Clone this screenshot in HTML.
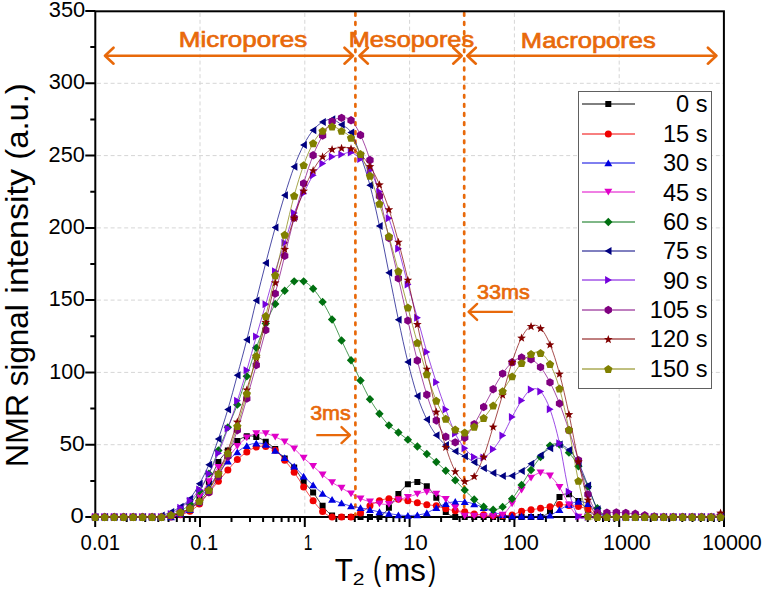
<!DOCTYPE html>
<html><head><meta charset="utf-8"><title>NMR T2</title>
<style>
html,body{margin:0;padding:0;background:#fff;}
body{width:763px;height:590px;overflow:hidden;}
svg{display:block;}
text{font-family:"Liberation Sans",sans-serif;}
</style></head><body>
<svg width="763" height="590" viewBox="0 0 763 590">
<rect x="0" y="0" width="763" height="590" fill="#fff"/>

<path d="M200.0,13 V516 M304.8,13 V516 M409.6,13 V516 M514.4,13 V516 M619.2,13 V516 M97,444.7 H723 M97,372.4 H723 M97,300.1 H723 M97,227.9 H723 M97,155.6 H723 M97,83.3 H723" stroke="#d6d6d6" stroke-width="1" stroke-dasharray="4,2.8" fill="none"/>
<path d="M355.4,13.1 V517" stroke="#E8690A" stroke-width="2.7" stroke-linecap="round" stroke-dasharray="2.6,6.5" fill="none"/>
<path d="M464.2,13.1 V517" stroke="#E8690A" stroke-width="2.7" stroke-linecap="round" stroke-dasharray="2.6,6.5" fill="none"/>
<rect x="95.3" y="11.3" width="628.6" height="505.7" fill="none" stroke="#000" stroke-width="2"/>
<path d="M85.3,517.0 H95.3 M90.3,480.9 H95.3 M85.3,444.7 H95.3 M90.3,408.6 H95.3 M85.3,372.4 H95.3 M90.3,336.3 H95.3 M85.3,300.1 H95.3 M90.3,264.0 H95.3 M85.3,227.9 H95.3 M90.3,191.7 H95.3 M85.3,155.6 H95.3 M90.3,119.4 H95.3 M85.3,83.3 H95.3 M90.3,47.1 H95.3 M85.3,11.0 H95.3 M95.2,517 V527.0 M126.7,517 V522.0 M145.2,517 V522.0 M158.3,517 V522.0 M168.5,517 V522.0 M176.8,517 V522.0 M183.8,517 V522.0 M189.8,517 V522.0 M195.2,517 V522.0 M200.0,517 V527.0 M231.5,517 V522.0 M250.0,517 V522.0 M263.1,517 V522.0 M273.3,517 V522.0 M281.6,517 V522.0 M288.6,517 V522.0 M294.6,517 V522.0 M300.0,517 V522.0 M304.8,517 V527.0 M336.3,517 V522.0 M354.8,517 V522.0 M367.9,517 V522.0 M378.1,517 V522.0 M386.4,517 V522.0 M393.4,517 V522.0 M399.4,517 V522.0 M404.8,517 V522.0 M409.6,517 V527.0 M441.1,517 V522.0 M459.6,517 V522.0 M472.7,517 V522.0 M482.9,517 V522.0 M491.2,517 V522.0 M498.2,517 V522.0 M504.2,517 V522.0 M509.6,517 V522.0 M514.4,517 V527.0 M545.9,517 V522.0 M564.4,517 V522.0 M577.5,517 V522.0 M587.7,517 V522.0 M596.0,517 V522.0 M603.0,517 V522.0 M609.0,517 V522.0 M614.4,517 V522.0 M619.2,517 V527.0 M650.7,517 V522.0 M669.2,517 V522.0 M682.3,517 V522.0 M692.5,517 V522.0 M700.8,517 V522.0 M707.8,517 V522.0 M713.8,517 V522.0 M719.2,517 V522.0 M724.0,517 V527" stroke="#000" stroke-width="2" fill="none"/>
<path d="M95.20,517.00 C96.78,517.00 101.52,517.00 104.67,517.00 C107.83,517.00 110.99,517.00 114.15,517.00 C117.31,517.00 120.47,517.00 123.62,517.00 C126.78,517.00 129.94,517.00 133.10,517.00 C136.26,517.00 139.42,517.00 142.57,517.00 C145.73,517.00 148.89,517.00 152.05,517.00 C155.21,517.00 158.37,517.24 161.53,517.00 C164.68,516.76 167.84,516.16 171.00,515.55 C174.16,514.95 177.32,514.59 180.47,513.39 C183.63,512.18 186.79,510.86 189.95,508.33 C193.11,505.80 196.27,502.54 199.43,498.21 C202.58,493.87 205.74,488.33 208.90,482.30 C212.06,476.28 215.22,467.36 218.38,462.06 C221.53,456.76 224.69,454.02 227.85,450.50 C231.01,446.98 234.17,443.32 237.32,440.96 C240.48,438.59 243.64,437.00 246.80,436.33 C249.96,435.65 253.12,436.02 256.27,436.91 C259.43,437.80 262.59,439.65 265.75,441.68 C268.91,443.70 272.07,446.26 275.23,449.05 C278.38,451.85 281.54,455.39 284.70,458.45 C287.86,461.51 291.02,463.58 294.18,467.41 C297.33,471.24 300.49,477.24 303.65,481.44 C306.81,485.63 309.97,488.50 313.12,492.57 C316.28,496.64 319.44,502.04 322.60,505.87 C325.76,509.70 328.92,513.70 332.07,515.55 C335.23,517.41 338.39,516.76 341.55,517.00 C344.71,517.24 347.87,517.00 351.02,517.00 C354.18,517.00 357.34,517.00 360.50,517.00 C363.66,517.00 366.82,517.00 369.97,517.00 C373.13,517.00 376.29,518.54 379.45,517.00 C382.61,515.46 385.77,511.58 388.92,507.75 C392.08,503.92 395.24,497.92 398.40,494.01 C401.56,490.11 404.72,486.33 407.88,484.33 C411.03,482.33 414.19,481.68 417.35,482.01 C420.51,482.35 423.67,483.75 426.82,486.35 C429.98,488.95 433.14,493.36 436.30,497.63 C439.46,501.89 442.62,508.71 445.77,511.94 C448.93,515.17 452.09,516.16 455.25,517.00 C458.41,517.84 461.57,517.00 464.72,517.00 C467.88,517.00 471.04,517.00 474.20,517.00 C477.36,517.00 480.52,517.00 483.67,517.00 C486.83,517.00 489.99,517.00 493.15,517.00 C496.31,517.00 499.47,517.00 502.62,517.00 C505.78,517.00 508.94,517.00 512.10,517.00 C515.26,517.00 518.42,517.00 521.58,517.00 C524.73,517.00 527.89,517.00 531.05,517.00 C534.21,517.00 537.37,517.96 540.52,517.00 C543.68,516.04 546.84,514.57 550.00,511.22 C553.16,507.87 556.32,499.75 559.48,496.90 C562.63,494.06 565.79,493.46 568.95,494.16 C572.11,494.86 575.27,498.49 578.42,501.10 C581.58,503.70 584.74,507.12 587.90,509.77 C591.06,512.42 594.22,515.80 597.38,517.00 C600.53,518.20 603.69,517.00 606.85,517.00 C610.01,517.00 613.17,517.00 616.33,517.00 C619.48,517.00 622.64,517.00 625.80,517.00 C628.96,517.00 632.12,517.00 635.27,517.00 C638.43,517.00 641.59,517.00 644.75,517.00 C647.91,517.00 651.07,517.00 654.23,517.00 C657.38,517.00 660.54,517.00 663.70,517.00 C666.86,517.00 670.02,517.00 673.18,517.00 C676.33,517.00 679.49,517.00 682.65,517.00 C685.81,517.00 688.97,517.00 692.12,517.00 C695.28,517.00 698.44,517.00 701.60,517.00 C704.76,517.00 707.92,517.00 711.08,517.00 C714.23,517.00 718.97,517.00 720.55,517.00" stroke="#000000" stroke-width="1" stroke-opacity="0.7" fill="none"/>
<path d="M92.20,514.00L98.20,514.00L98.20,520.00L92.20,520.00Z M101.67,514.00L107.67,514.00L107.67,520.00L101.67,520.00Z M111.15,514.00L117.15,514.00L117.15,520.00L111.15,520.00Z M120.62,514.00L126.62,514.00L126.62,520.00L120.62,520.00Z M130.10,514.00L136.10,514.00L136.10,520.00L130.10,520.00Z M139.57,514.00L145.57,514.00L145.57,520.00L139.57,520.00Z M149.05,514.00L155.05,514.00L155.05,520.00L149.05,520.00Z M158.53,514.00L164.53,514.00L164.53,520.00L158.53,520.00Z M168.00,512.55L174.00,512.55L174.00,518.55L168.00,518.55Z M177.47,510.39L183.47,510.39L183.47,516.39L177.47,516.39Z M186.95,505.33L192.95,505.33L192.95,511.33L186.95,511.33Z M196.43,495.21L202.43,495.21L202.43,501.21L196.43,501.21Z M205.90,479.30L211.90,479.30L211.90,485.30L205.90,485.30Z M215.38,459.06L221.38,459.06L221.38,465.06L215.38,465.06Z M224.85,447.50L230.85,447.50L230.85,453.50L224.85,453.50Z M234.32,437.96L240.32,437.96L240.32,443.96L234.32,443.96Z M243.80,433.33L249.80,433.33L249.80,439.33L243.80,439.33Z M253.27,433.91L259.27,433.91L259.27,439.91L253.27,439.91Z M262.75,438.68L268.75,438.68L268.75,444.68L262.75,444.68Z M272.23,446.05L278.23,446.05L278.23,452.05L272.23,452.05Z M281.70,455.45L287.70,455.45L287.70,461.45L281.70,461.45Z M291.18,464.41L297.18,464.41L297.18,470.41L291.18,470.41Z M300.65,478.44L306.65,478.44L306.65,484.44L300.65,484.44Z M310.12,489.57L316.12,489.57L316.12,495.57L310.12,495.57Z M319.60,502.87L325.60,502.87L325.60,508.87L319.60,508.87Z M329.07,512.55L335.07,512.55L335.07,518.55L329.07,518.55Z M338.55,514.00L344.55,514.00L344.55,520.00L338.55,520.00Z M348.02,514.00L354.02,514.00L354.02,520.00L348.02,520.00Z M357.50,514.00L363.50,514.00L363.50,520.00L357.50,520.00Z M366.97,514.00L372.97,514.00L372.97,520.00L366.97,520.00Z M376.45,514.00L382.45,514.00L382.45,520.00L376.45,520.00Z M385.92,504.75L391.92,504.75L391.92,510.75L385.92,510.75Z M395.40,491.01L401.40,491.01L401.40,497.01L395.40,497.01Z M404.88,481.33L410.88,481.33L410.88,487.33L404.88,487.33Z M414.35,479.01L420.35,479.01L420.35,485.01L414.35,485.01Z M423.82,483.35L429.82,483.35L429.82,489.35L423.82,489.35Z M433.30,494.63L439.30,494.63L439.30,500.63L433.30,500.63Z M442.77,508.94L448.77,508.94L448.77,514.94L442.77,514.94Z M452.25,514.00L458.25,514.00L458.25,520.00L452.25,520.00Z M461.72,514.00L467.72,514.00L467.72,520.00L461.72,520.00Z M471.20,514.00L477.20,514.00L477.20,520.00L471.20,520.00Z M480.67,514.00L486.67,514.00L486.67,520.00L480.67,520.00Z M490.15,514.00L496.15,514.00L496.15,520.00L490.15,520.00Z M499.62,514.00L505.62,514.00L505.62,520.00L499.62,520.00Z M509.10,514.00L515.10,514.00L515.10,520.00L509.10,520.00Z M518.58,514.00L524.58,514.00L524.58,520.00L518.58,520.00Z M528.05,514.00L534.05,514.00L534.05,520.00L528.05,520.00Z M537.52,514.00L543.52,514.00L543.52,520.00L537.52,520.00Z M547.00,508.22L553.00,508.22L553.00,514.22L547.00,514.22Z M556.48,493.90L562.48,493.90L562.48,499.90L556.48,499.90Z M565.95,491.16L571.95,491.16L571.95,497.16L565.95,497.16Z M575.42,498.10L581.42,498.10L581.42,504.10L575.42,504.10Z M584.90,506.77L590.90,506.77L590.90,512.77L584.90,512.77Z M594.38,514.00L600.38,514.00L600.38,520.00L594.38,520.00Z M603.85,514.00L609.85,514.00L609.85,520.00L603.85,520.00Z M613.33,514.00L619.33,514.00L619.33,520.00L613.33,520.00Z M622.80,514.00L628.80,514.00L628.80,520.00L622.80,520.00Z M632.27,514.00L638.27,514.00L638.27,520.00L632.27,520.00Z M641.75,514.00L647.75,514.00L647.75,520.00L641.75,520.00Z M651.23,514.00L657.23,514.00L657.23,520.00L651.23,520.00Z M660.70,514.00L666.70,514.00L666.70,520.00L660.70,520.00Z M670.18,514.00L676.18,514.00L676.18,520.00L670.18,520.00Z M679.65,514.00L685.65,514.00L685.65,520.00L679.65,520.00Z M689.12,514.00L695.12,514.00L695.12,520.00L689.12,520.00Z M698.60,514.00L704.60,514.00L704.60,520.00L698.60,520.00Z M708.08,514.00L714.08,514.00L714.08,520.00L708.08,520.00Z M717.55,514.00L723.55,514.00L723.55,520.00L717.55,520.00Z" fill="#000000"/>
<path d="M95.20,517.00 C96.78,517.00 101.52,517.00 104.67,517.00 C107.83,517.00 110.99,517.00 114.15,517.00 C117.31,517.00 120.47,517.00 123.62,517.00 C126.78,517.00 129.94,517.00 133.10,517.00 C136.26,517.00 139.42,517.00 142.57,517.00 C145.73,517.00 148.89,517.00 152.05,517.00 C155.21,517.00 158.37,517.00 161.53,517.00 C164.68,517.00 167.84,517.36 171.00,517.00 C174.16,516.64 177.32,515.80 180.47,514.83 C183.63,513.87 186.79,513.02 189.95,511.22 C193.11,509.41 196.27,507.12 199.43,503.99 C202.58,500.86 205.74,496.21 208.90,492.42 C212.06,488.64 215.22,485.03 218.38,481.29 C221.53,477.56 224.69,473.63 227.85,470.01 C231.01,466.40 234.17,462.59 237.32,459.61 C240.48,456.62 243.64,454.18 246.80,452.09 C249.96,449.99 253.12,447.97 256.27,447.03 C259.43,446.09 262.59,445.89 265.75,446.45 C268.91,447.00 272.07,448.04 275.23,450.35 C278.38,452.67 281.54,456.69 284.70,460.33 C287.86,463.97 291.02,467.75 294.18,472.18 C297.33,476.62 300.49,482.18 303.65,486.93 C306.81,491.68 309.97,496.57 313.12,500.66 C316.28,504.76 319.44,508.78 322.60,511.51 C325.76,514.23 328.92,516.08 332.07,517.00 C335.23,517.92 338.39,517.00 341.55,517.00 C344.71,517.00 347.87,517.67 351.02,517.00 C354.18,516.33 357.34,514.81 360.50,512.95 C363.66,511.10 366.82,507.92 369.97,505.87 C373.13,503.82 376.29,501.87 379.45,500.66 C382.61,499.46 385.77,498.88 388.92,498.64 C392.08,498.40 395.24,498.88 398.40,499.22 C401.56,499.56 404.72,500.09 407.88,500.66 C411.03,501.24 414.19,502.01 417.35,502.69 C420.51,503.36 423.67,504.18 426.82,504.71 C429.98,505.24 433.14,505.19 436.30,505.87 C439.46,506.54 442.62,507.94 445.77,508.76 C448.93,509.58 452.09,510.30 455.25,510.78 C458.41,511.27 461.57,511.12 464.72,511.65 C467.88,512.18 471.04,513.43 474.20,513.96 C477.36,514.49 480.52,514.57 483.67,514.83 C486.83,515.10 489.99,515.43 493.15,515.55 C496.31,515.67 499.47,515.65 502.62,515.55 C505.78,515.46 508.94,515.70 512.10,514.98 C515.26,514.25 518.42,512.08 521.58,511.22 C524.73,510.35 527.89,510.25 531.05,509.77 C534.21,509.29 537.37,508.83 540.52,508.33 C543.68,507.82 546.84,507.36 550.00,506.74 C553.16,506.11 556.32,504.76 559.48,504.57 C562.63,504.37 565.79,505.24 568.95,505.58 C572.11,505.92 575.27,505.96 578.42,506.59 C581.58,507.22 584.74,507.84 587.90,509.34 C591.06,510.83 594.22,514.28 597.38,515.55 C600.53,516.83 603.69,516.76 606.85,517.00 C610.01,517.24 613.17,517.00 616.33,517.00 C619.48,517.00 622.64,517.00 625.80,517.00 C628.96,517.00 632.12,517.00 635.27,517.00 C638.43,517.00 641.59,517.00 644.75,517.00 C647.91,517.00 651.07,517.00 654.23,517.00 C657.38,517.00 660.54,517.00 663.70,517.00 C666.86,517.00 670.02,517.00 673.18,517.00 C676.33,517.00 679.49,517.00 682.65,517.00 C685.81,517.00 688.97,517.00 692.12,517.00 C695.28,517.00 698.44,517.00 701.60,517.00 C704.76,517.00 707.92,517.00 711.08,517.00 C714.23,517.00 718.97,517.00 720.55,517.00" stroke="#F00000" stroke-width="1" stroke-opacity="0.7" fill="none"/>
<g fill="#F00000"><circle cx="95.20" cy="517.00" r="3.5"/><circle cx="104.67" cy="517.00" r="3.5"/><circle cx="114.15" cy="517.00" r="3.5"/><circle cx="123.62" cy="517.00" r="3.5"/><circle cx="133.10" cy="517.00" r="3.5"/><circle cx="142.57" cy="517.00" r="3.5"/><circle cx="152.05" cy="517.00" r="3.5"/><circle cx="161.53" cy="517.00" r="3.5"/><circle cx="171.00" cy="517.00" r="3.5"/><circle cx="180.47" cy="514.83" r="3.5"/><circle cx="189.95" cy="511.22" r="3.5"/><circle cx="199.43" cy="503.99" r="3.5"/><circle cx="208.90" cy="492.42" r="3.5"/><circle cx="218.38" cy="481.29" r="3.5"/><circle cx="227.85" cy="470.01" r="3.5"/><circle cx="237.32" cy="459.61" r="3.5"/><circle cx="246.80" cy="452.09" r="3.5"/><circle cx="256.27" cy="447.03" r="3.5"/><circle cx="265.75" cy="446.45" r="3.5"/><circle cx="275.23" cy="450.35" r="3.5"/><circle cx="284.70" cy="460.33" r="3.5"/><circle cx="294.18" cy="472.18" r="3.5"/><circle cx="303.65" cy="486.93" r="3.5"/><circle cx="313.12" cy="500.66" r="3.5"/><circle cx="322.60" cy="511.51" r="3.5"/><circle cx="332.07" cy="517.00" r="3.5"/><circle cx="341.55" cy="517.00" r="3.5"/><circle cx="351.02" cy="517.00" r="3.5"/><circle cx="360.50" cy="512.95" r="3.5"/><circle cx="369.97" cy="505.87" r="3.5"/><circle cx="379.45" cy="500.66" r="3.5"/><circle cx="388.92" cy="498.64" r="3.5"/><circle cx="398.40" cy="499.22" r="3.5"/><circle cx="407.88" cy="500.66" r="3.5"/><circle cx="417.35" cy="502.69" r="3.5"/><circle cx="426.82" cy="504.71" r="3.5"/><circle cx="436.30" cy="505.87" r="3.5"/><circle cx="445.77" cy="508.76" r="3.5"/><circle cx="455.25" cy="510.78" r="3.5"/><circle cx="464.72" cy="511.65" r="3.5"/><circle cx="474.20" cy="513.96" r="3.5"/><circle cx="483.67" cy="514.83" r="3.5"/><circle cx="493.15" cy="515.55" r="3.5"/><circle cx="502.62" cy="515.55" r="3.5"/><circle cx="512.10" cy="514.98" r="3.5"/><circle cx="521.58" cy="511.22" r="3.5"/><circle cx="531.05" cy="509.77" r="3.5"/><circle cx="540.52" cy="508.33" r="3.5"/><circle cx="550.00" cy="506.74" r="3.5"/><circle cx="559.48" cy="504.57" r="3.5"/><circle cx="568.95" cy="505.58" r="3.5"/><circle cx="578.42" cy="506.59" r="3.5"/><circle cx="587.90" cy="509.34" r="3.5"/><circle cx="597.38" cy="515.55" r="3.5"/><circle cx="606.85" cy="517.00" r="3.5"/><circle cx="616.33" cy="517.00" r="3.5"/><circle cx="625.80" cy="517.00" r="3.5"/><circle cx="635.27" cy="517.00" r="3.5"/><circle cx="644.75" cy="517.00" r="3.5"/><circle cx="654.23" cy="517.00" r="3.5"/><circle cx="663.70" cy="517.00" r="3.5"/><circle cx="673.18" cy="517.00" r="3.5"/><circle cx="682.65" cy="517.00" r="3.5"/><circle cx="692.12" cy="517.00" r="3.5"/><circle cx="701.60" cy="517.00" r="3.5"/><circle cx="711.08" cy="517.00" r="3.5"/><circle cx="720.55" cy="517.00" r="3.5"/></g>
<path d="M95.20,517.00 C96.78,517.00 101.52,517.00 104.67,517.00 C107.83,517.00 110.99,517.00 114.15,517.00 C117.31,517.00 120.47,517.00 123.62,517.00 C126.78,517.00 129.94,517.00 133.10,517.00 C136.26,517.00 139.42,517.00 142.57,517.00 C145.73,517.00 148.89,517.00 152.05,517.00 C155.21,517.00 158.37,517.00 161.53,517.00 C164.68,517.00 167.84,517.48 171.00,517.00 C174.16,516.52 177.32,515.31 180.47,514.11 C183.63,512.90 186.79,512.18 189.95,509.77 C193.11,507.36 196.27,503.51 199.43,499.65 C202.58,495.80 205.74,490.98 208.90,486.64 C212.06,482.30 215.22,477.87 218.38,473.63 C221.53,469.39 224.69,464.79 227.85,461.20 C231.01,457.61 234.17,454.67 237.32,452.09 C240.48,449.51 243.64,447.20 246.80,445.73 C249.96,444.26 253.12,443.49 256.27,443.27 C259.43,443.05 262.59,443.22 265.75,444.43 C268.91,445.63 272.07,448.26 275.23,450.50 C278.38,452.74 281.54,455.22 284.70,457.87 C287.86,460.52 291.02,463.34 294.18,466.40 C297.33,469.46 300.49,473.12 303.65,476.23 C306.81,479.34 309.97,482.16 313.12,485.05 C316.28,487.94 319.44,491.15 322.60,493.58 C325.76,496.01 328.92,498.06 332.07,499.65 C335.23,501.24 338.39,502.04 341.55,503.12 C344.71,504.21 347.87,505.39 351.02,506.16 C354.18,506.93 357.34,507.15 360.50,507.75 C363.66,508.35 366.82,509.07 369.97,509.77 C373.13,510.47 376.29,511.31 379.45,511.94 C382.61,512.57 385.77,513.02 388.92,513.53 C392.08,514.04 395.24,514.64 398.40,514.98 C401.56,515.31 404.72,515.55 407.88,515.55 C411.03,515.55 414.19,515.41 417.35,514.98 C420.51,514.54 423.67,514.13 426.82,512.95 C429.98,511.77 433.14,509.43 436.30,507.89 C439.46,506.35 442.62,504.74 445.77,503.70 C448.93,502.66 452.09,501.99 455.25,501.68 C458.41,501.36 461.57,501.43 464.72,501.82 C467.88,502.21 471.04,503.00 474.20,503.99 C477.36,504.98 480.52,506.42 483.67,507.75 C486.83,509.07 489.99,510.76 493.15,511.94 C496.31,513.12 499.47,514.13 502.62,514.83 C505.78,515.53 508.94,515.91 512.10,516.13 C515.26,516.36 518.42,516.16 521.58,516.18 C524.73,516.20 527.89,516.21 531.05,516.23 C534.21,516.25 537.37,516.44 540.52,516.28 C543.68,516.12 546.84,516.33 550.00,515.27 C553.16,514.20 556.32,511.67 559.48,509.92 C562.63,508.16 565.79,506.11 568.95,504.71 C572.11,503.31 575.27,501.68 578.42,501.53 C581.58,501.39 584.74,502.04 587.90,503.84 C591.06,505.65 594.22,510.18 597.38,512.37 C600.53,514.57 603.69,516.23 606.85,517.00 C610.01,517.77 613.17,517.00 616.33,517.00 C619.48,517.00 622.64,517.00 625.80,517.00 C628.96,517.00 632.12,517.00 635.27,517.00 C638.43,517.00 641.59,517.00 644.75,517.00 C647.91,517.00 651.07,517.00 654.23,517.00 C657.38,517.00 660.54,517.00 663.70,517.00 C666.86,517.00 670.02,517.00 673.18,517.00 C676.33,517.00 679.49,517.00 682.65,517.00 C685.81,517.00 688.97,517.00 692.12,517.00 C695.28,517.00 698.44,517.00 701.60,517.00 C704.76,517.00 707.92,517.00 711.08,517.00 C714.23,517.00 718.97,517.00 720.55,517.00" stroke="#0000E0" stroke-width="1" stroke-opacity="0.7" fill="none"/>
<path d="M95.20,513.40L99.20,520.20L91.20,520.20Z M104.67,513.40L108.67,520.20L100.67,520.20Z M114.15,513.40L118.15,520.20L110.15,520.20Z M123.62,513.40L127.62,520.20L119.62,520.20Z M133.10,513.40L137.10,520.20L129.10,520.20Z M142.57,513.40L146.57,520.20L138.57,520.20Z M152.05,513.40L156.05,520.20L148.05,520.20Z M161.53,513.40L165.53,520.20L157.53,520.20Z M171.00,513.40L175.00,520.20L167.00,520.20Z M180.47,510.51L184.47,517.31L176.47,517.31Z M189.95,506.17L193.95,512.97L185.95,512.97Z M199.43,496.05L203.43,502.85L195.43,502.85Z M208.90,483.04L212.90,489.84L204.90,489.84Z M218.38,470.03L222.38,476.83L214.38,476.83Z M227.85,457.60L231.85,464.40L223.85,464.40Z M237.32,448.49L241.32,455.29L233.32,455.29Z M246.80,442.13L250.80,448.93L242.80,448.93Z M256.27,439.67L260.27,446.47L252.27,446.47Z M265.75,440.83L269.75,447.63L261.75,447.63Z M275.23,446.90L279.23,453.70L271.23,453.70Z M284.70,454.27L288.70,461.07L280.70,461.07Z M294.18,462.80L298.18,469.60L290.18,469.60Z M303.65,472.63L307.65,479.43L299.65,479.43Z M313.12,481.45L317.12,488.25L309.12,488.25Z M322.60,489.98L326.60,496.78L318.60,496.78Z M332.07,496.05L336.07,502.85L328.07,502.85Z M341.55,499.52L345.55,506.32L337.55,506.32Z M351.02,502.56L355.02,509.36L347.02,509.36Z M360.50,504.15L364.50,510.95L356.50,510.95Z M369.97,506.17L373.97,512.97L365.97,512.97Z M379.45,508.34L383.45,515.14L375.45,515.14Z M388.92,509.93L392.92,516.73L384.92,516.73Z M398.40,511.38L402.40,518.18L394.40,518.18Z M407.88,511.95L411.88,518.75L403.88,518.75Z M417.35,511.38L421.35,518.18L413.35,518.18Z M426.82,509.35L430.82,516.15L422.82,516.15Z M436.30,504.29L440.30,511.09L432.30,511.09Z M445.77,500.10L449.77,506.90L441.77,506.90Z M455.25,498.08L459.25,504.88L451.25,504.88Z M464.72,498.22L468.72,505.02L460.72,505.02Z M474.20,500.39L478.20,507.19L470.20,507.19Z M483.67,504.15L487.67,510.95L479.67,510.95Z M493.15,508.34L497.15,515.14L489.15,515.14Z M502.62,511.23L506.62,518.03L498.62,518.03Z M512.10,512.53L516.10,519.33L508.10,519.33Z M521.58,512.58L525.58,519.38L517.58,519.38Z M531.05,512.63L535.05,519.43L527.05,519.43Z M540.52,512.68L544.52,519.48L536.52,519.48Z M550.00,511.67L554.00,518.47L546.00,518.47Z M559.48,506.32L563.48,513.12L555.48,513.12Z M568.95,501.11L572.95,507.91L564.95,507.91Z M578.42,497.93L582.42,504.73L574.42,504.73Z M587.90,500.24L591.90,507.04L583.90,507.04Z M597.38,508.77L601.38,515.57L593.38,515.57Z M606.85,513.40L610.85,520.20L602.85,520.20Z M616.33,513.40L620.33,520.20L612.33,520.20Z M625.80,513.40L629.80,520.20L621.80,520.20Z M635.27,513.40L639.27,520.20L631.27,520.20Z M644.75,513.40L648.75,520.20L640.75,520.20Z M654.23,513.40L658.23,520.20L650.23,520.20Z M663.70,513.40L667.70,520.20L659.70,520.20Z M673.18,513.40L677.18,520.20L669.18,520.20Z M682.65,513.40L686.65,520.20L678.65,520.20Z M692.12,513.40L696.12,520.20L688.12,520.20Z M701.60,513.40L705.60,520.20L697.60,520.20Z M711.08,513.40L715.08,520.20L707.08,520.20Z M720.55,513.40L724.55,520.20L716.55,520.20Z" fill="#0000E0"/>
<path d="M95.20,517.00 C96.78,517.00 101.52,517.00 104.67,517.00 C107.83,517.00 110.99,517.00 114.15,517.00 C117.31,517.00 120.47,517.00 123.62,517.00 C126.78,517.00 129.94,517.00 133.10,517.00 C136.26,517.00 139.42,517.00 142.57,517.00 C145.73,517.00 148.89,517.00 152.05,517.00 C155.21,517.00 158.37,517.00 161.53,517.00 C164.68,517.00 167.84,517.48 171.00,517.00 C174.16,516.52 177.32,515.55 180.47,514.11 C183.63,512.66 186.79,511.22 189.95,508.33 C193.11,505.43 196.27,501.24 199.43,496.76 C202.58,492.28 205.74,486.37 208.90,481.44 C212.06,476.50 215.22,471.05 218.38,467.12 C221.53,463.20 224.69,461.36 227.85,457.87 C231.01,454.38 234.17,449.53 237.32,446.16 C240.48,442.79 243.64,439.75 246.80,437.63 C249.96,435.51 253.12,434.14 256.27,433.44 C259.43,432.74 262.59,432.86 265.75,433.44 C268.91,434.02 272.07,435.53 275.23,436.91 C278.38,438.28 281.54,439.73 284.70,441.68 C287.86,443.63 291.02,445.89 294.18,448.62 C297.33,451.34 300.49,455.10 303.65,458.01 C306.81,460.93 309.97,463.32 313.12,466.11 C316.28,468.91 319.44,472.06 322.60,474.79 C325.76,477.51 328.92,480.25 332.07,482.45 C335.23,484.64 338.39,486.09 341.55,487.94 C344.71,489.80 347.87,491.80 351.02,493.58 C354.18,495.36 357.34,497.29 360.50,498.64 C363.66,499.99 366.82,500.83 369.97,501.68 C373.13,502.52 376.29,503.29 379.45,503.70 C382.61,504.11 385.77,504.81 388.92,504.13 C392.08,503.46 395.24,500.81 398.40,499.65 C401.56,498.49 404.72,498.13 407.88,497.19 C411.03,496.25 414.19,494.90 417.35,494.01 C420.51,493.12 423.67,491.84 426.82,491.84 C429.98,491.84 433.14,492.78 436.30,494.01 C439.46,495.24 442.62,496.93 445.77,499.22 C448.93,501.51 452.09,504.98 455.25,507.75 C458.41,510.52 461.57,514.47 464.72,515.84 C467.88,517.22 471.04,515.94 474.20,515.99 C477.36,516.04 480.52,516.08 483.67,516.13 C486.83,516.18 489.99,516.49 493.15,516.28 C496.31,516.06 499.47,516.93 502.62,514.83 C505.78,512.74 508.94,507.84 512.10,503.70 C515.26,499.56 518.42,494.25 521.58,489.97 C524.73,485.68 527.89,480.83 531.05,477.97 C534.21,475.10 537.37,473.12 540.52,472.76 C543.68,472.40 546.84,473.39 550.00,475.80 C553.16,478.21 556.32,482.40 559.48,487.22 C562.63,492.04 565.79,499.75 568.95,504.71 C572.11,509.68 575.27,514.95 578.42,517.00 C581.58,519.05 584.74,517.00 587.90,517.00 C591.06,517.00 594.22,517.00 597.38,517.00 C600.53,517.00 603.69,517.00 606.85,517.00 C610.01,517.00 613.17,517.00 616.33,517.00 C619.48,517.00 622.64,517.00 625.80,517.00 C628.96,517.00 632.12,517.00 635.27,517.00 C638.43,517.00 641.59,517.00 644.75,517.00 C647.91,517.00 651.07,517.00 654.23,517.00 C657.38,517.00 660.54,517.00 663.70,517.00 C666.86,517.00 670.02,517.00 673.18,517.00 C676.33,517.00 679.49,517.00 682.65,517.00 C685.81,517.00 688.97,517.00 692.12,517.00 C695.28,517.00 698.44,517.00 701.60,517.00 C704.76,517.00 707.92,517.00 711.08,517.00 C714.23,517.00 718.97,517.00 720.55,517.00" stroke="#E000C8" stroke-width="1" stroke-opacity="0.7" fill="none"/>
<path d="M95.20,520.60L99.20,513.80L91.20,513.80Z M104.67,520.60L108.67,513.80L100.67,513.80Z M114.15,520.60L118.15,513.80L110.15,513.80Z M123.62,520.60L127.62,513.80L119.62,513.80Z M133.10,520.60L137.10,513.80L129.10,513.80Z M142.57,520.60L146.57,513.80L138.57,513.80Z M152.05,520.60L156.05,513.80L148.05,513.80Z M161.53,520.60L165.53,513.80L157.53,513.80Z M171.00,520.60L175.00,513.80L167.00,513.80Z M180.47,517.71L184.47,510.91L176.47,510.91Z M189.95,511.93L193.95,505.13L185.95,505.13Z M199.43,500.36L203.43,493.56L195.43,493.56Z M208.90,485.04L212.90,478.24L204.90,478.24Z M218.38,470.72L222.38,463.92L214.38,463.92Z M227.85,461.47L231.85,454.67L223.85,454.67Z M237.32,449.76L241.32,442.96L233.32,442.96Z M246.80,441.23L250.80,434.43L242.80,434.43Z M256.27,437.04L260.27,430.24L252.27,430.24Z M265.75,437.04L269.75,430.24L261.75,430.24Z M275.23,440.51L279.23,433.71L271.23,433.71Z M284.70,445.28L288.70,438.48L280.70,438.48Z M294.18,452.22L298.18,445.42L290.18,445.42Z M303.65,461.61L307.65,454.81L299.65,454.81Z M313.12,469.71L317.12,462.91L309.12,462.91Z M322.60,478.39L326.60,471.59L318.60,471.59Z M332.07,486.05L336.07,479.25L328.07,479.25Z M341.55,491.54L345.55,484.74L337.55,484.74Z M351.02,497.18L355.02,490.38L347.02,490.38Z M360.50,502.24L364.50,495.44L356.50,495.44Z M369.97,505.28L373.97,498.48L365.97,498.48Z M379.45,507.30L383.45,500.50L375.45,500.50Z M388.92,507.73L392.92,500.93L384.92,500.93Z M398.40,503.25L402.40,496.45L394.40,496.45Z M407.88,500.79L411.88,493.99L403.88,493.99Z M417.35,497.61L421.35,490.81L413.35,490.81Z M426.82,495.44L430.82,488.64L422.82,488.64Z M436.30,497.61L440.30,490.81L432.30,490.81Z M445.77,502.82L449.77,496.02L441.77,496.02Z M455.25,511.35L459.25,504.55L451.25,504.55Z M464.72,519.44L468.72,512.64L460.72,512.64Z M474.20,519.59L478.20,512.79L470.20,512.79Z M483.67,519.73L487.67,512.93L479.67,512.93Z M493.15,519.88L497.15,513.08L489.15,513.08Z M502.62,518.43L506.62,511.63L498.62,511.63Z M512.10,507.30L516.10,500.50L508.10,500.50Z M521.58,493.57L525.58,486.77L517.58,486.77Z M531.05,481.57L535.05,474.77L527.05,474.77Z M540.52,476.36L544.52,469.56L536.52,469.56Z M550.00,479.40L554.00,472.60L546.00,472.60Z M559.48,490.82L563.48,484.02L555.48,484.02Z M568.95,508.31L572.95,501.51L564.95,501.51Z M578.42,520.60L582.42,513.80L574.42,513.80Z M587.90,520.60L591.90,513.80L583.90,513.80Z M597.38,520.60L601.38,513.80L593.38,513.80Z M606.85,520.60L610.85,513.80L602.85,513.80Z M616.33,520.60L620.33,513.80L612.33,513.80Z M625.80,520.60L629.80,513.80L621.80,513.80Z M635.27,520.60L639.27,513.80L631.27,513.80Z M644.75,520.60L648.75,513.80L640.75,513.80Z M654.23,520.60L658.23,513.80L650.23,513.80Z M663.70,520.60L667.70,513.80L659.70,513.80Z M673.18,520.60L677.18,513.80L669.18,513.80Z M682.65,520.60L686.65,513.80L678.65,513.80Z M692.12,520.60L696.12,513.80L688.12,513.80Z M701.60,520.60L705.60,513.80L697.60,513.80Z M711.08,520.60L715.08,513.80L707.08,513.80Z M720.55,520.60L724.55,513.80L716.55,513.80Z" fill="#E000C8"/>
<path d="M95.20,517.00 C96.78,517.00 101.52,517.00 104.67,517.00 C107.83,517.00 110.99,517.00 114.15,517.00 C117.31,517.00 120.47,517.00 123.62,517.00 C126.78,517.00 129.94,517.00 133.10,517.00 C136.26,517.00 139.42,517.00 142.57,517.00 C145.73,517.00 148.89,517.00 152.05,517.00 C155.21,517.00 158.37,517.36 161.53,517.00 C164.68,516.64 167.84,515.80 171.00,514.83 C174.16,513.87 177.32,513.02 180.47,511.22 C183.63,509.41 186.79,507.36 189.95,503.99 C193.11,500.62 196.27,496.04 199.43,490.98 C202.58,485.92 205.74,480.38 208.90,473.63 C212.06,466.88 215.22,458.21 218.38,450.50 C221.53,442.79 224.69,435.00 227.85,427.37 C231.01,419.73 234.17,413.17 237.32,404.67 C240.48,396.16 243.64,385.80 246.80,376.33 C249.96,366.86 253.12,356.67 256.27,347.85 C259.43,339.03 262.59,330.72 265.75,323.42 C268.91,316.12 272.07,309.49 275.23,304.05 C278.38,298.60 281.54,294.53 284.70,290.75 C287.86,286.96 291.02,282.91 294.18,281.35 C297.33,279.78 300.49,280.12 303.65,281.35 C306.81,282.58 309.97,285.30 313.12,288.72 C316.28,292.14 319.44,296.75 322.60,301.88 C325.76,307.01 328.92,313.08 332.07,319.52 C335.23,325.95 338.39,333.68 341.55,340.48 C344.71,347.27 347.87,353.61 351.02,360.28 C354.18,366.96 357.34,374.02 360.50,380.52 C363.66,387.03 366.82,393.78 369.97,399.32 C373.13,404.86 376.29,409.44 379.45,413.78 C382.61,418.11 385.77,422.21 388.92,425.34 C392.08,428.47 395.24,430.18 398.40,432.57 C401.56,434.96 404.72,437.34 407.88,439.65 C411.03,441.97 414.19,444.06 417.35,446.45 C420.51,448.83 423.67,451.36 426.82,453.97 C429.98,456.57 433.14,459.27 436.30,462.06 C439.46,464.86 442.62,467.70 445.77,470.74 C448.93,473.77 452.09,477.05 455.25,480.28 C458.41,483.51 461.57,486.91 464.72,490.11 C467.88,493.31 471.04,496.74 474.20,499.51 C477.36,502.28 480.52,505.02 483.67,506.74 C486.83,508.45 489.99,509.75 493.15,509.77 C496.31,509.80 499.47,508.71 502.62,506.88 C505.78,505.05 508.94,502.42 512.10,498.78 C515.26,495.15 518.42,489.84 521.58,485.05 C524.73,480.25 527.89,474.69 531.05,470.01 C534.21,465.34 537.37,461.07 540.52,457.00 C543.68,452.93 546.84,447.68 550.00,445.58 C553.16,443.49 556.32,443.24 559.48,444.43 C562.63,445.61 565.79,449.03 568.95,452.67 C572.11,456.30 575.27,460.59 578.42,466.26 C581.58,471.92 584.74,479.65 587.90,486.64 C591.06,493.63 594.22,503.36 597.38,508.18 C600.53,513.00 603.69,514.08 606.85,515.55 C610.01,517.02 613.17,516.76 616.33,517.00 C619.48,517.24 622.64,517.00 625.80,517.00 C628.96,517.00 632.12,517.00 635.27,517.00 C638.43,517.00 641.59,517.00 644.75,517.00 C647.91,517.00 651.07,517.00 654.23,517.00 C657.38,517.00 660.54,517.00 663.70,517.00 C666.86,517.00 670.02,517.00 673.18,517.00 C676.33,517.00 679.49,517.00 682.65,517.00 C685.81,517.00 688.97,517.00 692.12,517.00 C695.28,517.00 698.44,517.00 701.60,517.00 C704.76,517.00 707.92,517.00 711.08,517.00 C714.23,517.00 718.97,517.00 720.55,517.00" stroke="#007010" stroke-width="1" stroke-opacity="0.7" fill="none"/>
<path d="M95.20,512.80L99.40,517.00L95.20,521.20L91.00,517.00Z M104.67,512.80L108.88,517.00L104.67,521.20L100.47,517.00Z M114.15,512.80L118.35,517.00L114.15,521.20L109.95,517.00Z M123.62,512.80L127.83,517.00L123.62,521.20L119.42,517.00Z M133.10,512.80L137.30,517.00L133.10,521.20L128.90,517.00Z M142.57,512.80L146.77,517.00L142.57,521.20L138.38,517.00Z M152.05,512.80L156.25,517.00L152.05,521.20L147.85,517.00Z M161.53,512.80L165.72,517.00L161.53,521.20L157.33,517.00Z M171.00,510.63L175.20,514.83L171.00,519.03L166.80,514.83Z M180.47,507.02L184.67,511.22L180.47,515.42L176.28,511.22Z M189.95,499.79L194.15,503.99L189.95,508.19L185.75,503.99Z M199.43,486.78L203.62,490.98L199.43,495.18L195.23,490.98Z M208.90,469.43L213.10,473.63L208.90,477.83L204.70,473.63Z M218.38,446.30L222.57,450.50L218.38,454.70L214.18,450.50Z M227.85,423.17L232.05,427.37L227.85,431.57L223.65,427.37Z M237.32,400.47L241.52,404.67L237.32,408.87L233.12,404.67Z M246.80,372.13L251.00,376.33L246.80,380.53L242.60,376.33Z M256.27,343.65L260.47,347.85L256.27,352.05L252.07,347.85Z M265.75,319.22L269.95,323.42L265.75,327.62L261.55,323.42Z M275.23,299.85L279.43,304.05L275.23,308.25L271.03,304.05Z M284.70,286.55L288.90,290.75L284.70,294.95L280.50,290.75Z M294.18,277.15L298.38,281.35L294.18,285.55L289.98,281.35Z M303.65,277.15L307.85,281.35L303.65,285.55L299.45,281.35Z M313.12,284.52L317.32,288.72L313.12,292.92L308.93,288.72Z M322.60,297.68L326.80,301.88L322.60,306.08L318.40,301.88Z M332.07,315.32L336.27,319.52L332.07,323.72L327.88,319.52Z M341.55,336.28L345.75,340.48L341.55,344.68L337.35,340.48Z M351.02,356.08L355.22,360.28L351.02,364.48L346.82,360.28Z M360.50,376.32L364.70,380.52L360.50,384.72L356.30,380.52Z M369.97,395.12L374.17,399.32L369.97,403.52L365.77,399.32Z M379.45,409.58L383.65,413.78L379.45,417.98L375.25,413.78Z M388.92,421.14L393.12,425.34L388.92,429.54L384.72,425.34Z M398.40,428.37L402.60,432.57L398.40,436.77L394.20,432.57Z M407.88,435.45L412.07,439.65L407.88,443.85L403.68,439.65Z M417.35,442.25L421.55,446.45L417.35,450.65L413.15,446.45Z M426.82,449.77L431.02,453.97L426.82,458.17L422.62,453.97Z M436.30,457.86L440.50,462.06L436.30,466.26L432.10,462.06Z M445.77,466.54L449.97,470.74L445.77,474.94L441.57,470.74Z M455.25,476.08L459.45,480.28L455.25,484.48L451.05,480.28Z M464.72,485.91L468.92,490.11L464.72,494.31L460.52,490.11Z M474.20,495.31L478.40,499.51L474.20,503.71L470.00,499.51Z M483.67,502.54L487.87,506.74L483.67,510.94L479.47,506.74Z M493.15,505.57L497.35,509.77L493.15,513.97L488.95,509.77Z M502.62,502.68L506.82,506.88L502.62,511.08L498.43,506.88Z M512.10,494.58L516.30,498.78L512.10,502.98L507.90,498.78Z M521.58,480.85L525.78,485.05L521.58,489.25L517.38,485.05Z M531.05,465.81L535.25,470.01L531.05,474.21L526.85,470.01Z M540.52,452.80L544.73,457.00L540.52,461.20L536.32,457.00Z M550.00,441.38L554.20,445.58L550.00,449.78L545.80,445.58Z M559.48,440.23L563.68,444.43L559.48,448.63L555.27,444.43Z M568.95,448.47L573.15,452.67L568.95,456.87L564.75,452.67Z M578.42,462.06L582.62,466.26L578.42,470.46L574.22,466.26Z M587.90,482.44L592.10,486.64L587.90,490.84L583.70,486.64Z M597.38,503.98L601.58,508.18L597.38,512.38L593.17,508.18Z M606.85,511.35L611.05,515.55L606.85,519.75L602.65,515.55Z M616.33,512.80L620.53,517.00L616.33,521.20L612.12,517.00Z M625.80,512.80L630.00,517.00L625.80,521.20L621.60,517.00Z M635.27,512.80L639.48,517.00L635.27,521.20L631.07,517.00Z M644.75,512.80L648.95,517.00L644.75,521.20L640.55,517.00Z M654.23,512.80L658.43,517.00L654.23,521.20L650.02,517.00Z M663.70,512.80L667.90,517.00L663.70,521.20L659.50,517.00Z M673.18,512.80L677.38,517.00L673.18,521.20L668.98,517.00Z M682.65,512.80L686.85,517.00L682.65,521.20L678.45,517.00Z M692.12,512.80L696.33,517.00L692.12,521.20L687.92,517.00Z M701.60,512.80L705.80,517.00L701.60,521.20L697.40,517.00Z M711.08,512.80L715.28,517.00L711.08,521.20L706.88,517.00Z M720.55,512.80L724.75,517.00L720.55,521.20L716.35,517.00Z" fill="#007010"/>
<path d="M95.20,517.00 C96.78,517.00 101.52,517.00 104.67,517.00 C107.83,517.00 110.99,517.00 114.15,517.00 C117.31,517.00 120.47,517.00 123.62,517.00 C126.78,517.00 129.94,517.00 133.10,517.00 C136.26,517.00 139.42,517.00 142.57,517.00 C145.73,517.00 148.89,517.24 152.05,517.00 C155.21,516.76 158.37,516.40 161.53,515.55 C164.68,514.71 167.84,513.41 171.00,511.94 C174.16,510.47 177.32,508.95 180.47,506.74 C183.63,504.52 186.79,502.47 189.95,498.64 C193.11,494.81 196.27,489.41 199.43,483.75 C202.58,478.09 205.74,472.13 208.90,464.67 C212.06,457.20 215.22,448.14 218.38,438.93 C221.53,429.73 224.69,420.06 227.85,409.44 C231.01,398.81 234.17,386.79 237.32,375.18 C240.48,363.56 243.64,352.21 246.80,339.76 C249.96,327.30 253.12,313.23 256.27,300.43 C259.43,287.64 262.59,275.13 265.75,262.99 C268.91,250.84 272.07,238.87 275.23,227.57 C278.38,216.27 281.54,205.33 284.70,195.18 C287.86,185.04 291.02,175.06 294.18,166.70 C297.33,158.34 300.49,151.11 303.65,145.02 C306.81,138.92 309.97,133.96 313.12,130.13 C316.28,126.30 319.44,123.84 322.60,122.03 C325.76,120.22 328.92,118.83 332.07,119.28 C335.23,119.74 338.39,122.59 341.55,124.78 C344.71,126.97 347.87,127.31 351.02,132.44 C354.18,137.57 357.34,146.75 360.50,155.57 C363.66,164.39 366.82,173.62 369.97,185.35 C373.13,197.09 376.29,211.40 379.45,225.98 C382.61,240.56 385.77,257.21 388.92,272.82 C392.08,288.43 395.24,304.79 398.40,319.66 C401.56,334.53 404.72,349.30 407.88,362.02 C411.03,374.74 414.19,386.43 417.35,395.99 C420.51,405.56 423.67,412.86 426.82,419.41 C429.98,425.97 433.14,431.05 436.30,435.32 C439.46,439.58 442.62,442.35 445.77,445.00 C448.93,447.65 452.09,449.34 455.25,451.22 C458.41,453.10 461.57,454.42 464.72,456.28 C467.88,458.14 471.04,460.35 474.20,462.35 C477.36,464.35 480.52,466.52 483.67,468.28 C486.83,470.04 489.99,471.63 493.15,472.91 C496.31,474.18 499.47,475.48 502.62,475.94 C505.78,476.40 508.94,476.47 512.10,475.65 C515.26,474.83 518.42,473.00 521.58,471.03 C524.73,469.05 527.89,466.42 531.05,463.80 C534.21,461.17 537.37,457.85 540.52,455.27 C543.68,452.69 546.84,450.14 550.00,448.33 C553.16,446.52 556.32,444.14 559.48,444.43 C562.63,444.71 565.79,447.00 568.95,450.06 C572.11,453.12 575.27,456.88 578.42,462.79 C581.58,468.69 584.74,477.72 587.90,485.48 C591.06,493.24 594.22,504.21 597.38,509.34 C600.53,514.47 603.69,515.00 606.85,516.28 C610.01,517.55 613.17,516.88 616.33,517.00 C619.48,517.12 622.64,517.00 625.80,517.00 C628.96,517.00 632.12,517.00 635.27,517.00 C638.43,517.00 641.59,517.00 644.75,517.00 C647.91,517.00 651.07,517.00 654.23,517.00 C657.38,517.00 660.54,517.00 663.70,517.00 C666.86,517.00 670.02,517.00 673.18,517.00 C676.33,517.00 679.49,517.00 682.65,517.00 C685.81,517.00 688.97,517.00 692.12,517.00 C695.28,517.00 698.44,517.00 701.60,517.00 C704.76,517.00 707.92,517.00 711.08,517.00 C714.23,517.00 718.97,517.00 720.55,517.00" stroke="#000080" stroke-width="1" stroke-opacity="0.7" fill="none"/>
<path d="M91.60,517.00L98.40,513.00L98.40,521.00Z M101.08,517.00L107.88,513.00L107.88,521.00Z M110.55,517.00L117.35,513.00L117.35,521.00Z M120.03,517.00L126.83,513.00L126.83,521.00Z M129.50,517.00L136.30,513.00L136.30,521.00Z M138.97,517.00L145.77,513.00L145.77,521.00Z M148.45,517.00L155.25,513.00L155.25,521.00Z M157.93,515.55L164.72,511.55L164.72,519.55Z M167.40,511.94L174.20,507.94L174.20,515.94Z M176.88,506.74L183.67,502.74L183.67,510.74Z M186.35,498.64L193.15,494.64L193.15,502.64Z M195.83,483.75L202.62,479.75L202.62,487.75Z M205.30,464.67L212.10,460.67L212.10,468.67Z M214.78,438.93L221.57,434.93L221.57,442.93Z M224.25,409.44L231.05,405.44L231.05,413.44Z M233.72,375.18L240.52,371.18L240.52,379.18Z M243.20,339.76L250.00,335.76L250.00,343.76Z M252.67,300.43L259.47,296.43L259.47,304.43Z M262.15,262.99L268.95,258.99L268.95,266.99Z M271.62,227.57L278.43,223.57L278.43,231.57Z M281.10,195.18L287.90,191.18L287.90,199.18Z M290.57,166.70L297.38,162.70L297.38,170.70Z M300.05,145.02L306.85,141.02L306.85,149.02Z M309.52,130.13L316.32,126.13L316.32,134.13Z M319.00,122.03L325.80,118.03L325.80,126.03Z M328.47,119.28L335.27,115.28L335.27,123.28Z M337.95,124.78L344.75,120.78L344.75,128.78Z M347.42,132.44L354.22,128.44L354.22,136.44Z M356.90,155.57L363.70,151.57L363.70,159.57Z M366.37,185.35L373.17,181.35L373.17,189.35Z M375.85,225.98L382.65,221.98L382.65,229.98Z M385.32,272.82L392.12,268.82L392.12,276.82Z M394.80,319.66L401.60,315.66L401.60,323.66Z M404.27,362.02L411.07,358.02L411.07,366.02Z M413.75,395.99L420.55,391.99L420.55,399.99Z M423.22,419.41L430.02,415.41L430.02,423.41Z M432.70,435.32L439.50,431.32L439.50,439.32Z M442.17,445.00L448.97,441.00L448.97,449.00Z M451.65,451.22L458.45,447.22L458.45,455.22Z M461.12,456.28L467.92,452.28L467.92,460.28Z M470.60,462.35L477.40,458.35L477.40,466.35Z M480.07,468.28L486.87,464.28L486.87,472.28Z M489.55,472.91L496.35,468.91L496.35,476.91Z M499.02,475.94L505.82,471.94L505.82,479.94Z M508.50,475.65L515.30,471.65L515.30,479.65Z M517.98,471.03L524.78,467.03L524.78,475.03Z M527.45,463.80L534.25,459.80L534.25,467.80Z M536.92,455.27L543.73,451.27L543.73,459.27Z M546.40,448.33L553.20,444.33L553.20,452.33Z M555.88,444.43L562.68,440.43L562.68,448.43Z M565.35,450.06L572.15,446.06L572.15,454.06Z M574.82,462.79L581.62,458.79L581.62,466.79Z M584.30,485.48L591.10,481.48L591.10,489.48Z M593.77,509.34L600.58,505.34L600.58,513.34Z M603.25,516.28L610.05,512.28L610.05,520.28Z M612.73,517.00L619.53,513.00L619.53,521.00Z M622.20,517.00L629.00,513.00L629.00,521.00Z M631.67,517.00L638.48,513.00L638.48,521.00Z M641.15,517.00L647.95,513.00L647.95,521.00Z M650.62,517.00L657.43,513.00L657.43,521.00Z M660.10,517.00L666.90,513.00L666.90,521.00Z M669.58,517.00L676.38,513.00L676.38,521.00Z M679.05,517.00L685.85,513.00L685.85,521.00Z M688.52,517.00L695.33,513.00L695.33,521.00Z M698.00,517.00L704.80,513.00L704.80,521.00Z M707.48,517.00L714.28,513.00L714.28,521.00Z M716.95,517.00L723.75,513.00L723.75,521.00Z" fill="#000080"/>
<path d="M95.20,517.00 C96.78,517.00 101.52,517.00 104.67,517.00 C107.83,517.00 110.99,517.00 114.15,517.00 C117.31,517.00 120.47,517.00 123.62,517.00 C126.78,517.00 129.94,517.00 133.10,517.00 C136.26,517.00 139.42,517.00 142.57,517.00 C145.73,517.00 148.89,517.00 152.05,517.00 C155.21,517.00 158.37,517.48 161.53,517.00 C164.68,516.52 167.84,515.65 171.00,514.11 C174.16,512.57 177.32,509.99 180.47,507.75 C183.63,505.51 186.79,503.70 189.95,500.66 C193.11,497.63 196.27,494.04 199.43,489.53 C202.58,485.03 205.74,479.68 208.90,473.63 C212.06,467.58 215.22,460.76 218.38,453.24 C221.53,445.73 224.69,437.27 227.85,428.52 C231.01,419.78 234.17,410.47 237.32,400.76 C240.48,391.05 243.64,380.96 246.80,370.26 C249.96,359.56 253.12,347.59 256.27,336.57 C259.43,325.56 262.59,315.08 265.75,304.19 C268.91,293.30 272.07,281.47 275.23,271.23 C278.38,260.99 281.54,252.43 284.70,242.75 C287.86,233.06 291.02,221.38 294.18,213.11 C297.33,204.85 300.49,199.47 303.65,193.16 C306.81,186.85 309.97,180.17 313.12,175.23 C316.28,170.29 319.44,166.58 322.60,163.52 C325.76,160.46 328.92,158.37 332.07,156.87 C335.23,155.38 338.39,155.28 341.55,154.56 C344.71,153.84 347.87,151.79 351.02,152.54 C354.18,153.28 357.34,156.10 360.50,159.04 C363.66,161.98 366.82,164.73 369.97,170.17 C373.13,175.62 376.29,183.69 379.45,191.71 C382.61,199.74 385.77,208.80 388.92,218.32 C392.08,227.83 395.24,237.81 398.40,248.82 C401.56,259.83 404.72,272.89 407.88,284.38 C411.03,295.88 414.19,306.53 417.35,317.78 C420.51,329.03 423.67,341.15 426.82,351.90 C429.98,362.65 433.14,372.67 436.30,382.26 C439.46,391.85 442.62,400.89 445.77,409.44 C448.93,417.99 452.09,427.10 455.25,433.58 C458.41,440.06 461.57,444.43 464.72,448.33 C467.88,452.23 471.04,455.46 474.20,457.00 C477.36,458.54 480.52,458.86 483.67,457.58 C486.83,456.30 489.99,453.00 493.15,449.34 C496.31,445.68 499.47,440.98 502.62,435.61 C505.78,430.23 508.94,422.93 512.10,417.10 C515.26,411.27 518.42,405.22 521.58,400.62 C524.73,396.02 527.89,391.01 531.05,389.49 C534.21,387.97 537.37,388.21 540.52,391.51 C543.68,394.81 546.84,400.67 550.00,409.29 C553.16,417.92 556.32,429.53 559.48,443.27 C562.63,457.00 565.79,479.53 568.95,491.70 C572.11,503.87 575.27,512.06 578.42,516.28 C581.58,520.49 584.74,516.88 587.90,517.00 C591.06,517.12 594.22,517.00 597.38,517.00 C600.53,517.00 603.69,517.00 606.85,517.00 C610.01,517.00 613.17,517.00 616.33,517.00 C619.48,517.00 622.64,517.00 625.80,517.00 C628.96,517.00 632.12,517.00 635.27,517.00 C638.43,517.00 641.59,517.00 644.75,517.00 C647.91,517.00 651.07,517.00 654.23,517.00 C657.38,517.00 660.54,517.00 663.70,517.00 C666.86,517.00 670.02,517.00 673.18,517.00 C676.33,517.00 679.49,517.00 682.65,517.00 C685.81,517.00 688.97,517.00 692.12,517.00 C695.28,517.00 698.44,517.00 701.60,517.00 C704.76,517.00 707.92,517.00 711.08,517.00 C714.23,517.00 718.97,517.00 720.55,517.00" stroke="#7400DC" stroke-width="1" stroke-opacity="0.7" fill="none"/>
<path d="M98.80,517.00L92.00,513.00L92.00,521.00Z M108.27,517.00L101.47,513.00L101.47,521.00Z M117.75,517.00L110.95,513.00L110.95,521.00Z M127.22,517.00L120.42,513.00L120.42,521.00Z M136.70,517.00L129.90,513.00L129.90,521.00Z M146.17,517.00L139.38,513.00L139.38,521.00Z M155.65,517.00L148.85,513.00L148.85,521.00Z M165.12,517.00L158.33,513.00L158.33,521.00Z M174.60,514.11L167.80,510.11L167.80,518.11Z M184.07,507.75L177.28,503.75L177.28,511.75Z M193.55,500.66L186.75,496.66L186.75,504.66Z M203.03,489.53L196.23,485.53L196.23,493.53Z M212.50,473.63L205.70,469.63L205.70,477.63Z M221.97,453.24L215.18,449.24L215.18,457.24Z M231.45,428.52L224.65,424.52L224.65,432.52Z M240.92,400.76L234.12,396.76L234.12,404.76Z M250.40,370.26L243.60,366.26L243.60,374.26Z M259.88,336.57L253.07,332.57L253.07,340.57Z M269.35,304.19L262.55,300.19L262.55,308.19Z M278.83,271.23L272.03,267.23L272.03,275.23Z M288.30,242.75L281.50,238.75L281.50,246.75Z M297.78,213.11L290.98,209.11L290.98,217.11Z M307.25,193.16L300.45,189.16L300.45,197.16Z M316.73,175.23L309.93,171.23L309.93,179.23Z M326.20,163.52L319.40,159.52L319.40,167.52Z M335.68,156.87L328.88,152.87L328.88,160.87Z M345.15,154.56L338.35,150.56L338.35,158.56Z M354.62,152.54L347.82,148.54L347.82,156.54Z M364.10,159.04L357.30,155.04L357.30,163.04Z M373.57,170.17L366.77,166.17L366.77,174.17Z M383.05,191.71L376.25,187.71L376.25,195.71Z M392.52,218.32L385.72,214.32L385.72,222.32Z M402.00,248.82L395.20,244.82L395.20,252.82Z M411.48,284.38L404.68,280.38L404.68,288.38Z M420.95,317.78L414.15,313.78L414.15,321.78Z M430.43,351.90L423.62,347.90L423.62,355.90Z M439.90,382.26L433.10,378.26L433.10,386.26Z M449.38,409.44L442.57,405.44L442.57,413.44Z M458.85,433.58L452.05,429.58L452.05,437.58Z M468.32,448.33L461.52,444.33L461.52,452.33Z M477.80,457.00L471.00,453.00L471.00,461.00Z M487.27,457.58L480.47,453.58L480.47,461.58Z M496.75,449.34L489.95,445.34L489.95,453.34Z M506.23,435.61L499.43,431.61L499.43,439.61Z M515.70,417.10L508.90,413.10L508.90,421.10Z M525.18,400.62L518.38,396.62L518.38,404.62Z M534.65,389.49L527.85,385.49L527.85,393.49Z M544.12,391.51L537.32,387.51L537.32,395.51Z M553.60,409.29L546.80,405.29L546.80,413.29Z M563.08,443.27L556.27,439.27L556.27,447.27Z M572.55,491.70L565.75,487.70L565.75,495.70Z M582.02,516.28L575.22,512.28L575.22,520.28Z M591.50,517.00L584.70,513.00L584.70,521.00Z M600.98,517.00L594.17,513.00L594.17,521.00Z M610.45,517.00L603.65,513.00L603.65,521.00Z M619.93,517.00L613.12,513.00L613.12,521.00Z M629.40,517.00L622.60,513.00L622.60,521.00Z M638.88,517.00L632.07,513.00L632.07,521.00Z M648.35,517.00L641.55,513.00L641.55,521.00Z M657.83,517.00L651.02,513.00L651.02,521.00Z M667.30,517.00L660.50,513.00L660.50,521.00Z M676.78,517.00L669.98,513.00L669.98,521.00Z M686.25,517.00L679.45,513.00L679.45,521.00Z M695.73,517.00L688.92,513.00L688.92,521.00Z M705.20,517.00L698.40,513.00L698.40,521.00Z M714.68,517.00L707.88,513.00L707.88,521.00Z M724.15,517.00L717.35,513.00L717.35,521.00Z" fill="#7400DC"/>
<path d="M95.20,517.00 C96.78,517.00 101.52,517.00 104.67,517.00 C107.83,517.00 110.99,517.00 114.15,517.00 C117.31,517.00 120.47,517.00 123.62,517.00 C126.78,517.00 129.94,517.00 133.10,517.00 C136.26,517.00 139.42,517.00 142.57,517.00 C145.73,517.00 148.89,517.00 152.05,517.00 C155.21,517.00 158.37,517.24 161.53,517.00 C164.68,516.76 167.84,516.28 171.00,515.55 C174.16,514.83 177.32,513.87 180.47,512.66 C183.63,511.46 186.79,510.01 189.95,508.33 C193.11,506.64 196.27,505.19 199.43,502.54 C202.58,499.89 205.74,496.76 208.90,492.42 C212.06,488.09 215.22,482.54 218.38,476.52 C221.53,470.50 224.69,463.99 227.85,456.28 C231.01,448.57 234.17,439.87 237.32,430.26 C240.48,420.64 243.64,409.46 246.80,398.60 C249.96,387.73 253.12,376.48 256.27,365.06 C259.43,353.63 262.59,341.97 265.75,330.07 C268.91,318.17 272.07,306.00 275.23,293.64 C278.38,281.28 281.54,268.53 284.70,255.90 C287.86,243.28 291.02,229.98 294.18,217.88 C297.33,205.79 300.49,193.76 303.65,183.33 C306.81,172.90 309.97,163.23 313.12,155.28 C316.28,147.33 319.44,141.26 322.60,135.62 C325.76,129.98 328.92,124.42 332.07,121.45 C335.23,118.49 338.39,118.03 341.55,117.84 C344.71,117.65 347.87,117.43 351.02,120.30 C354.18,123.16 357.34,128.42 360.50,135.04 C363.66,141.67 366.82,149.88 369.97,160.05 C373.13,170.22 376.29,183.06 379.45,196.05 C382.61,209.04 385.77,224.27 388.92,237.98 C392.08,251.69 395.24,264.53 398.40,278.31 C401.56,292.10 404.72,306.96 407.88,320.67 C411.03,334.38 414.19,348.24 417.35,360.57 C420.51,372.91 423.67,384.72 426.82,394.69 C429.98,404.67 433.14,413.41 436.30,420.43 C439.46,427.44 442.62,433.10 445.77,436.76 C448.93,440.43 452.09,442.23 455.25,442.40 C458.41,442.57 461.57,440.81 464.72,437.77 C467.88,434.74 471.04,429.32 474.20,424.19 C477.36,419.05 480.52,412.81 483.67,406.98 C486.83,401.15 489.99,394.76 493.15,389.20 C496.31,383.63 499.47,378.07 502.62,373.59 C505.78,369.10 508.94,364.98 512.10,362.31 C515.26,359.63 518.42,358.02 521.58,357.54 C524.73,357.06 527.89,357.83 531.05,359.42 C534.21,361.01 537.37,363.25 540.52,367.08 C543.68,370.91 546.84,376.33 550.00,382.40 C553.16,388.48 556.32,395.54 559.48,403.51 C562.63,411.49 565.79,420.81 568.95,430.26 C572.11,439.70 575.27,449.49 578.42,460.18 C581.58,470.88 584.74,485.65 587.90,494.45 C591.06,503.24 594.22,509.92 597.38,512.95 C600.53,515.99 603.69,512.76 606.85,512.66 C610.01,512.57 613.17,512.33 616.33,512.37 C619.48,512.42 622.64,512.71 625.80,512.95 C628.96,513.19 632.12,513.43 635.27,513.82 C638.43,514.20 641.59,514.81 644.75,515.27 C647.91,515.72 651.07,516.28 654.23,516.57 C657.38,516.86 660.54,516.93 663.70,517.00 C666.86,517.07 670.02,517.00 673.18,517.00 C676.33,517.00 679.49,517.00 682.65,517.00 C685.81,517.00 688.97,517.00 692.12,517.00 C695.28,517.00 698.44,517.00 701.60,517.00 C704.76,517.00 707.92,517.00 711.08,517.00 C714.23,517.00 718.97,517.00 720.55,517.00" stroke="#800080" stroke-width="1" stroke-opacity="0.7" fill="none"/>
<path d="M98.84,519.10L95.20,521.20L91.56,519.10L91.56,514.90L95.20,512.80L98.84,514.90Z M108.31,519.10L104.67,521.20L101.03,519.10L101.03,514.90L104.67,512.80L108.31,514.90Z M117.79,519.10L114.15,521.20L110.51,519.10L110.51,514.90L114.15,512.80L117.79,514.90Z M127.27,519.10L123.62,521.20L119.98,519.10L119.98,514.90L123.62,512.80L127.27,514.90Z M136.74,519.10L133.10,521.20L129.46,519.10L129.46,514.90L133.10,512.80L136.74,514.90Z M146.21,519.10L142.57,521.20L138.94,519.10L138.94,514.90L142.57,512.80L146.21,514.90Z M155.69,519.10L152.05,521.20L148.41,519.10L148.41,514.90L152.05,512.80L155.69,514.90Z M165.16,519.10L161.53,521.20L157.89,519.10L157.89,514.90L161.53,512.80L165.16,514.90Z M174.64,517.65L171.00,519.75L167.36,517.65L167.36,513.45L171.00,511.35L174.64,513.45Z M184.11,514.76L180.47,516.86L176.84,514.76L176.84,510.56L180.47,508.46L184.11,510.56Z M193.59,510.43L189.95,512.53L186.31,510.43L186.31,506.23L189.95,504.13L193.59,506.23Z M203.06,504.64L199.43,506.74L195.79,504.64L195.79,500.44L199.43,498.34L203.06,500.44Z M212.54,494.52L208.90,496.62L205.26,494.52L205.26,490.32L208.90,488.22L212.54,490.32Z M222.01,478.62L218.38,480.72L214.74,478.62L214.74,474.42L218.38,472.32L222.01,474.42Z M231.49,458.38L227.85,460.48L224.21,458.38L224.21,454.18L227.85,452.08L231.49,454.18Z M240.96,432.36L237.32,434.46L233.69,432.36L233.69,428.16L237.32,426.06L240.96,428.16Z M250.44,400.70L246.80,402.80L243.16,400.70L243.16,396.50L246.80,394.40L250.44,396.50Z M259.91,367.16L256.27,369.26L252.63,367.16L252.63,362.96L256.27,360.86L259.91,362.96Z M269.39,332.17L265.75,334.27L262.11,332.17L262.11,327.97L265.75,325.87L269.39,327.97Z M278.87,295.74L275.23,297.84L271.59,295.74L271.59,291.54L275.23,289.44L278.87,291.54Z M288.34,258.00L284.70,260.10L281.06,258.00L281.06,253.80L284.70,251.70L288.34,253.80Z M297.81,219.98L294.18,222.08L290.54,219.98L290.54,215.78L294.18,213.68L297.81,215.78Z M307.29,185.43L303.65,187.53L300.01,185.43L300.01,181.23L303.65,179.13L307.29,181.23Z M316.76,157.38L313.12,159.48L309.49,157.38L309.49,153.18L313.12,151.08L316.76,153.18Z M326.24,137.72L322.60,139.82L318.96,137.72L318.96,133.52L322.60,131.42L326.24,133.52Z M335.71,123.55L332.07,125.65L328.44,123.55L328.44,119.35L332.07,117.25L335.71,119.35Z M345.19,119.94L341.55,122.04L337.91,119.94L337.91,115.74L341.55,113.64L345.19,115.74Z M354.66,122.40L351.02,124.50L347.38,122.40L347.38,118.20L351.02,116.10L354.66,118.20Z M364.14,137.14L360.50,139.24L356.86,137.14L356.86,132.94L360.50,130.84L364.14,132.94Z M373.61,162.15L369.97,164.25L366.33,162.15L366.33,157.95L369.97,155.85L373.61,157.95Z M383.09,198.15L379.45,200.25L375.81,198.15L375.81,193.95L379.45,191.85L383.09,193.95Z M392.56,240.08L388.92,242.18L385.28,240.08L385.28,235.88L388.92,233.78L392.56,235.88Z M402.04,280.41L398.40,282.51L394.76,280.41L394.76,276.21L398.40,274.11L402.04,276.21Z M411.51,322.77L407.88,324.87L404.24,322.77L404.24,318.57L407.88,316.47L411.51,318.57Z M420.99,362.67L417.35,364.77L413.71,362.67L413.71,358.47L417.35,356.37L420.99,358.47Z M430.46,396.79L426.82,398.89L423.19,396.79L423.19,392.59L426.82,390.49L430.46,392.59Z M439.94,422.53L436.30,424.63L432.66,422.53L432.66,418.33L436.30,416.23L439.94,418.33Z M449.41,438.86L445.77,440.96L442.13,438.86L442.13,434.66L445.77,432.56L449.41,434.66Z M458.89,444.50L455.25,446.60L451.61,444.50L451.61,440.30L455.25,438.20L458.89,440.30Z M468.36,439.87L464.72,441.97L461.08,439.87L461.08,435.67L464.72,433.57L468.36,435.67Z M477.84,426.29L474.20,428.39L470.56,426.29L470.56,422.09L474.20,419.99L477.84,422.09Z M487.31,409.08L483.67,411.18L480.03,409.08L480.03,404.88L483.67,402.78L487.31,404.88Z M496.79,391.30L493.15,393.40L489.51,391.30L489.51,387.10L493.15,385.00L496.79,387.10Z M506.26,375.69L502.62,377.79L498.99,375.69L498.99,371.49L502.62,369.39L506.26,371.49Z M515.74,364.41L512.10,366.51L508.46,364.41L508.46,360.21L512.10,358.11L515.74,360.21Z M525.22,359.64L521.58,361.74L517.94,359.64L517.94,355.44L521.58,353.34L525.22,355.44Z M534.69,361.52L531.05,363.62L527.41,361.52L527.41,357.32L531.05,355.22L534.69,357.32Z M544.16,369.18L540.52,371.28L536.88,369.18L536.88,364.98L540.52,362.88L544.16,364.98Z M553.64,384.50L550.00,386.60L546.36,384.50L546.36,380.30L550.00,378.20L553.64,380.30Z M563.12,405.61L559.48,407.71L555.84,405.61L555.84,401.41L559.48,399.31L563.12,401.41Z M572.59,432.36L568.95,434.46L565.31,432.36L565.31,428.16L568.95,426.06L572.59,428.16Z M582.06,462.28L578.42,464.38L574.78,462.28L574.78,458.08L578.42,455.98L582.06,458.08Z M591.54,496.55L587.90,498.65L584.26,496.55L584.26,492.35L587.90,490.25L591.54,492.35Z M601.01,515.05L597.38,517.15L593.74,515.05L593.74,510.85L597.38,508.75L601.01,510.85Z M610.49,514.76L606.85,516.86L603.21,514.76L603.21,510.56L606.85,508.46L610.49,510.56Z M619.97,514.47L616.33,516.57L612.69,514.47L612.69,510.27L616.33,508.17L619.97,510.27Z M629.44,515.05L625.80,517.15L622.16,515.05L622.16,510.85L625.80,508.75L629.44,510.85Z M638.91,515.92L635.27,518.02L631.63,515.92L631.63,511.72L635.27,509.62L638.91,511.72Z M648.39,517.37L644.75,519.47L641.11,517.37L641.11,513.17L644.75,511.07L648.39,513.17Z M657.87,518.67L654.23,520.77L650.59,518.67L650.59,514.47L654.23,512.37L657.87,514.47Z M667.34,519.10L663.70,521.20L660.06,519.10L660.06,514.90L663.70,512.80L667.34,514.90Z M676.82,519.10L673.18,521.20L669.54,519.10L669.54,514.90L673.18,512.80L676.82,514.90Z M686.29,519.10L682.65,521.20L679.01,519.10L679.01,514.90L682.65,512.80L686.29,514.90Z M695.76,519.10L692.12,521.20L688.49,519.10L688.49,514.90L692.12,512.80L695.76,514.90Z M705.24,519.10L701.60,521.20L697.96,519.10L697.96,514.90L701.60,512.80L705.24,514.90Z M714.72,519.10L711.08,521.20L707.44,519.10L707.44,514.90L711.08,512.80L714.72,514.90Z M724.19,519.10L720.55,521.20L716.91,519.10L716.91,514.90L720.55,512.80L724.19,514.90Z" fill="#800080"/>
<path d="M95.20,517.00 C96.78,517.00 101.52,517.00 104.67,517.00 C107.83,517.00 110.99,517.00 114.15,517.00 C117.31,517.00 120.47,517.00 123.62,517.00 C126.78,517.00 129.94,517.00 133.10,517.00 C136.26,517.00 139.42,517.00 142.57,517.00 C145.73,517.00 148.89,517.00 152.05,517.00 C155.21,517.00 158.37,517.24 161.53,517.00 C164.68,516.76 167.84,516.28 171.00,515.55 C174.16,514.83 177.32,513.87 180.47,512.66 C183.63,511.46 186.79,510.25 189.95,508.33 C193.11,506.40 196.27,504.23 199.43,501.10 C202.58,497.96 205.74,494.35 208.90,489.53 C212.06,484.71 215.22,478.69 218.38,472.18 C221.53,465.68 224.69,458.93 227.85,450.50 C231.01,442.06 234.17,431.75 237.32,421.58 C240.48,411.41 243.64,400.09 246.80,389.49 C249.96,378.89 253.12,369.25 256.27,357.97 C259.43,346.69 262.59,334.43 265.75,321.83 C268.91,309.23 272.07,294.53 275.23,282.36 C278.38,270.19 281.54,259.59 284.70,248.82 C287.86,238.05 291.02,227.45 294.18,217.74 C297.33,208.03 300.49,198.49 303.65,190.56 C306.81,182.63 309.97,175.86 313.12,170.17 C316.28,164.49 319.44,159.96 322.60,156.44 C325.76,152.92 328.92,150.51 332.07,149.07 C335.23,147.62 338.39,147.89 341.55,147.76 C344.71,147.64 347.87,147.21 351.02,148.34 C354.18,149.48 357.34,151.60 360.50,154.56 C363.66,157.52 366.82,161.16 369.97,166.13 C373.13,171.09 376.29,177.16 379.45,184.34 C382.61,191.52 385.77,199.64 388.92,209.21 C392.08,218.77 395.24,229.98 398.40,241.74 C401.56,253.49 404.72,266.05 407.88,279.76 C411.03,293.47 414.19,309.18 417.35,324.00 C420.51,338.82 423.67,354.07 426.82,368.67 C429.98,383.27 433.14,398.57 436.30,411.61 C439.46,424.64 442.62,436.96 445.77,446.88 C448.93,456.81 452.09,465.46 455.25,471.17 C458.41,476.88 461.57,480.33 464.72,481.15 C467.88,481.97 471.04,480.18 474.20,476.09 C477.36,471.99 480.52,464.81 483.67,456.57 C486.83,448.33 489.99,436.98 493.15,426.64 C496.31,416.31 499.47,405.32 502.62,394.55 C505.78,383.78 508.94,371.51 512.10,362.02 C515.26,352.53 518.42,343.59 521.58,337.59 C524.73,331.59 527.89,327.61 531.05,326.02 C534.21,324.43 537.37,324.99 540.52,328.05 C543.68,331.11 546.84,336.79 550.00,344.38 C553.16,351.97 556.32,361.97 559.48,373.59 C562.63,385.20 565.79,399.44 568.95,414.07 C572.11,428.69 575.27,447.08 578.42,461.34 C581.58,475.60 584.74,490.62 587.90,499.65 C591.06,508.69 594.22,512.66 597.38,515.55 C600.53,518.45 603.69,516.76 606.85,517.00 C610.01,517.24 613.17,517.00 616.33,517.00 C619.48,517.00 622.64,517.00 625.80,517.00 C628.96,517.00 632.12,517.00 635.27,517.00 C638.43,517.00 641.59,517.00 644.75,517.00 C647.91,517.00 651.07,517.00 654.23,517.00 C657.38,517.00 660.54,517.00 663.70,517.00 C666.86,517.00 670.02,517.00 673.18,517.00 C676.33,517.00 679.49,517.00 682.65,517.00 C685.81,517.00 688.97,517.00 692.12,517.00 C695.28,517.00 698.44,517.00 701.60,517.00 C704.76,517.00 707.92,517.72 711.08,517.00 C714.23,516.28 718.97,513.39 720.55,512.66" stroke="#800000" stroke-width="1" stroke-opacity="0.7" fill="none"/>
<path d="M95.20,512.90L96.32,515.96L99.57,516.08L97.01,518.09L97.90,521.22L95.20,519.40L92.50,521.22L93.39,518.09L90.83,516.08L94.08,515.96Z M104.67,512.90L105.80,515.96L109.05,516.08L106.48,518.09L107.38,521.22L104.67,519.40L101.97,521.22L102.86,518.09L100.30,516.08L103.55,515.96Z M114.15,512.90L115.27,515.96L118.52,516.08L115.96,518.09L116.85,521.22L114.15,519.40L111.45,521.22L112.34,518.09L109.78,516.08L113.03,515.96Z M123.62,512.90L124.75,515.96L128.00,516.08L125.44,518.09L126.33,521.22L123.62,519.40L120.92,521.22L121.81,518.09L119.25,516.08L122.50,515.96Z M133.10,512.90L134.22,515.96L137.47,516.08L134.91,518.09L135.80,521.22L133.10,519.40L130.40,521.22L131.29,518.09L128.73,516.08L131.98,515.96Z M142.57,512.90L143.69,515.96L146.94,516.08L144.38,518.09L145.27,521.22L142.57,519.40L139.88,521.22L140.76,518.09L138.20,516.08L141.45,515.96Z M152.05,512.90L153.17,515.96L156.42,516.08L153.86,518.09L154.75,521.22L152.05,519.40L149.35,521.22L150.24,518.09L147.68,516.08L150.93,515.96Z M161.53,512.90L162.65,515.96L165.90,516.08L163.34,518.09L164.22,521.22L161.53,519.40L158.83,521.22L159.72,518.09L157.16,516.08L160.41,515.96Z M171.00,511.45L172.12,514.51L175.37,514.63L172.81,516.64L173.70,519.77L171.00,517.95L168.30,519.77L169.19,516.64L166.63,514.63L169.88,514.51Z M180.47,508.56L181.59,511.62L184.84,511.74L182.28,513.75L183.17,516.88L180.47,515.06L177.78,516.88L178.66,513.75L176.10,511.74L179.35,511.62Z M189.95,504.23L191.07,507.29L194.32,507.41L191.76,509.42L192.65,512.55L189.95,510.73L187.25,512.55L188.14,509.42L185.58,507.41L188.83,507.29Z M199.43,497.00L200.55,500.06L203.80,500.18L201.24,502.19L202.12,505.32L199.43,503.50L196.73,505.32L197.62,502.19L195.06,500.18L198.31,500.06Z M208.90,485.43L210.02,488.49L213.27,488.61L210.71,490.62L211.60,493.75L208.90,491.93L206.20,493.75L207.09,490.62L204.53,488.61L207.78,488.49Z M218.38,468.08L219.50,471.14L222.75,471.26L220.19,473.27L221.07,476.40L218.38,474.58L215.68,476.40L216.56,473.27L214.00,471.26L217.25,471.14Z M227.85,446.40L228.97,449.46L232.22,449.58L229.66,451.59L230.55,454.72L227.85,452.90L225.15,454.72L226.04,451.59L223.48,449.58L226.73,449.46Z M237.32,417.48L238.44,420.54L241.69,420.66L239.13,422.67L240.02,425.80L237.32,423.98L234.62,425.80L235.51,422.67L232.95,420.66L236.20,420.54Z M246.80,385.39L247.92,388.45L251.17,388.57L248.61,390.58L249.50,393.71L246.80,391.89L244.10,393.71L244.99,390.58L242.43,388.57L245.68,388.45Z M256.27,353.87L257.39,356.93L260.64,357.05L258.08,359.06L258.97,362.19L256.27,360.37L253.57,362.19L254.46,359.06L251.90,357.05L255.15,356.93Z M265.75,317.73L266.87,320.79L270.12,320.91L267.56,322.92L268.45,326.05L265.75,324.23L263.05,326.05L263.94,322.92L261.38,320.91L264.63,320.79Z M275.23,278.26L276.35,281.32L279.60,281.44L277.04,283.45L277.93,286.58L275.23,284.76L272.53,286.58L273.42,283.45L270.86,281.44L274.11,281.32Z M284.70,244.72L285.82,247.78L289.07,247.90L286.51,249.91L287.40,253.04L284.70,251.22L282.00,253.04L282.89,249.91L280.33,247.90L283.58,247.78Z M294.18,213.64L295.30,216.70L298.55,216.82L295.99,218.83L296.88,221.96L294.18,220.14L291.48,221.96L292.37,218.83L289.81,216.82L293.06,216.70Z M303.65,186.46L304.77,189.52L308.02,189.64L305.46,191.65L306.35,194.78L303.65,192.96L300.95,194.78L301.84,191.65L299.28,189.64L302.53,189.52Z M313.12,166.07L314.25,169.13L317.50,169.25L314.94,171.26L315.82,174.39L313.12,172.57L310.43,174.39L311.31,171.26L308.75,169.25L312.00,169.13Z M322.60,152.34L323.72,155.40L326.97,155.52L324.41,157.53L325.30,160.66L322.60,158.84L319.90,160.66L320.79,157.53L318.23,155.52L321.48,155.40Z M332.07,144.97L333.19,148.03L336.44,148.15L333.88,150.16L334.77,153.29L332.07,151.47L329.38,153.29L330.26,150.16L327.70,148.15L330.95,148.03Z M341.55,143.66L342.67,146.72L345.92,146.84L343.36,148.85L344.25,151.98L341.55,150.16L338.85,151.98L339.74,148.85L337.18,146.84L340.43,146.72Z M351.02,144.24L352.14,147.30L355.39,147.42L352.83,149.43L353.72,152.56L351.02,150.74L348.32,152.56L349.21,149.43L346.65,147.42L349.90,147.30Z M360.50,150.46L361.62,153.52L364.87,153.64L362.31,155.65L363.20,158.78L360.50,156.96L357.80,158.78L358.69,155.65L356.13,153.64L359.38,153.52Z M369.97,162.03L371.09,165.09L374.34,165.21L371.78,167.22L372.67,170.35L369.97,168.53L367.27,170.35L368.16,167.22L365.60,165.21L368.85,165.09Z M379.45,180.24L380.57,183.30L383.82,183.42L381.26,185.43L382.15,188.56L379.45,186.74L376.75,188.56L377.64,185.43L375.08,183.42L378.33,183.30Z M388.92,205.11L390.04,208.17L393.29,208.29L390.73,210.30L391.62,213.43L388.92,211.61L386.22,213.43L387.11,210.30L384.55,208.29L387.80,208.17Z M398.40,237.64L399.52,240.70L402.77,240.82L400.21,242.83L401.10,245.96L398.40,244.14L395.70,245.96L396.59,242.83L394.03,240.82L397.28,240.70Z M407.88,275.66L409.00,278.72L412.25,278.84L409.69,280.85L410.57,283.98L407.88,282.16L405.18,283.98L406.06,280.85L403.50,278.84L406.75,278.72Z M417.35,319.90L418.47,322.96L421.72,323.08L419.16,325.09L420.05,328.22L417.35,326.40L414.65,328.22L415.54,325.09L412.98,323.08L416.23,322.96Z M426.82,364.57L427.94,367.63L431.19,367.75L428.63,369.76L429.52,372.89L426.82,371.07L424.12,372.89L425.01,369.76L422.45,367.75L425.70,367.63Z M436.30,407.51L437.42,410.57L440.67,410.69L438.11,412.70L439.00,415.83L436.30,414.01L433.60,415.83L434.49,412.70L431.93,410.69L435.18,410.57Z M445.77,442.78L446.89,445.84L450.14,445.96L447.58,447.97L448.47,451.10L445.77,449.28L443.07,451.10L443.96,447.97L441.40,445.96L444.65,445.84Z M455.25,467.07L456.37,470.13L459.62,470.25L457.06,472.26L457.95,475.39L455.25,473.57L452.55,475.39L453.44,472.26L450.88,470.25L454.13,470.13Z M464.72,477.05L465.84,480.11L469.09,480.23L466.53,482.24L467.42,485.37L464.72,483.55L462.02,485.37L462.91,482.24L460.35,480.23L463.60,480.11Z M474.20,471.99L475.32,475.05L478.57,475.17L476.01,477.18L476.90,480.31L474.20,478.49L471.50,480.31L472.39,477.18L469.83,475.17L473.08,475.05Z M483.67,452.47L484.79,455.53L488.04,455.65L485.48,457.66L486.37,460.79L483.67,458.97L480.97,460.79L481.86,457.66L479.30,455.65L482.55,455.53Z M493.15,422.54L494.27,425.60L497.52,425.72L494.96,427.73L495.85,430.86L493.15,429.04L490.45,430.86L491.34,427.73L488.78,425.72L492.03,425.60Z M502.62,390.45L503.75,393.51L507.00,393.63L504.44,395.64L505.32,398.77L502.62,396.95L499.93,398.77L500.81,395.64L498.25,393.63L501.50,393.51Z M512.10,357.92L513.22,360.98L516.47,361.10L513.91,363.11L514.80,366.24L512.10,364.42L509.40,366.24L510.29,363.11L507.73,361.10L510.98,360.98Z M521.58,333.49L522.70,336.55L525.95,336.67L523.38,338.68L524.28,341.81L521.58,339.99L518.88,341.81L519.77,338.68L517.21,336.67L520.46,336.55Z M531.05,321.92L532.17,324.98L535.42,325.10L532.86,327.11L533.75,330.24L531.05,328.42L528.35,330.24L529.24,327.11L526.68,325.10L529.93,324.98Z M540.52,323.95L541.64,327.01L544.89,327.13L542.33,329.14L543.23,332.27L540.52,330.45L537.82,332.27L538.72,329.14L536.15,327.13L539.40,327.01Z M550.00,340.28L551.12,343.34L554.37,343.46L551.81,345.47L552.70,348.60L550.00,346.78L547.30,348.60L548.19,345.47L545.63,343.46L548.88,343.34Z M559.48,369.49L560.60,372.55L563.85,372.67L561.28,374.68L562.18,377.81L559.48,375.99L556.77,377.81L557.67,374.68L555.11,372.67L558.36,372.55Z M568.95,409.97L570.07,413.03L573.32,413.15L570.76,415.16L571.65,418.29L568.95,416.47L566.25,418.29L567.14,415.16L564.58,413.15L567.83,413.03Z M578.42,457.24L579.54,460.30L582.79,460.42L580.23,462.43L581.12,465.56L578.42,463.74L575.72,465.56L576.62,462.43L574.05,460.42L577.30,460.30Z M587.90,495.55L589.02,498.61L592.27,498.73L589.71,500.74L590.60,503.87L587.90,502.05L585.20,503.87L586.09,500.74L583.53,498.73L586.78,498.61Z M597.38,511.45L598.50,514.51L601.75,514.63L599.18,516.64L600.08,519.77L597.38,517.95L594.67,519.77L595.57,516.64L593.00,514.63L596.25,514.51Z M606.85,512.90L607.97,515.96L611.22,516.08L608.66,518.09L609.55,521.22L606.85,519.40L604.15,521.22L605.04,518.09L602.48,516.08L605.73,515.96Z M616.33,512.90L617.45,515.96L620.70,516.08L618.13,518.09L619.03,521.22L616.33,519.40L613.62,521.22L614.52,518.09L611.96,516.08L615.21,515.96Z M625.80,512.90L626.92,515.96L630.17,516.08L627.61,518.09L628.50,521.22L625.80,519.40L623.10,521.22L623.99,518.09L621.43,516.08L624.68,515.96Z M635.27,512.90L636.39,515.96L639.64,516.08L637.08,518.09L637.98,521.22L635.27,519.40L632.57,521.22L633.47,518.09L630.90,516.08L634.15,515.96Z M644.75,512.90L645.87,515.96L649.12,516.08L646.56,518.09L647.45,521.22L644.75,519.40L642.05,521.22L642.94,518.09L640.38,516.08L643.63,515.96Z M654.23,512.90L655.35,515.96L658.60,516.08L656.03,518.09L656.93,521.22L654.23,519.40L651.52,521.22L652.42,518.09L649.86,516.08L653.11,515.96Z M663.70,512.90L664.82,515.96L668.07,516.08L665.51,518.09L666.40,521.22L663.70,519.40L661.00,521.22L661.89,518.09L659.33,516.08L662.58,515.96Z M673.18,512.90L674.30,515.96L677.55,516.08L674.99,518.09L675.88,521.22L673.18,519.40L670.48,521.22L671.37,518.09L668.81,516.08L672.06,515.96Z M682.65,512.90L683.77,515.96L687.02,516.08L684.46,518.09L685.35,521.22L682.65,519.40L679.95,521.22L680.84,518.09L678.28,516.08L681.53,515.96Z M692.12,512.90L693.25,515.96L696.50,516.08L693.93,518.09L694.83,521.22L692.12,519.40L689.42,521.22L690.32,518.09L687.75,516.08L691.00,515.96Z M701.60,512.90L702.72,515.96L705.97,516.08L703.41,518.09L704.30,521.22L701.60,519.40L698.90,521.22L699.79,518.09L697.23,516.08L700.48,515.96Z M711.08,512.90L712.20,515.96L715.45,516.08L712.88,518.09L713.78,521.22L711.08,519.40L708.38,521.22L709.27,518.09L706.71,516.08L709.96,515.96Z M720.55,508.56L721.67,511.62L724.92,511.74L722.36,513.75L723.25,516.88L720.55,515.06L717.85,516.88L718.74,513.75L716.18,511.74L719.43,511.62Z" fill="#800000"/>
<path d="M95.20,517.00 C96.78,517.00 101.52,517.00 104.67,517.00 C107.83,517.00 110.99,517.00 114.15,517.00 C117.31,517.00 120.47,517.00 123.62,517.00 C126.78,517.00 129.94,517.00 133.10,517.00 C136.26,517.00 139.42,517.00 142.57,517.00 C145.73,517.00 148.89,517.00 152.05,517.00 C155.21,517.00 158.37,517.36 161.53,517.00 C164.68,516.64 167.84,515.63 171.00,514.83 C174.16,514.04 177.32,513.34 180.47,512.23 C183.63,511.12 186.79,510.04 189.95,508.18 C193.11,506.33 196.27,504.13 199.43,501.10 C202.58,498.06 205.74,494.54 208.90,489.97 C212.06,485.39 215.22,479.75 218.38,473.63 C221.53,467.51 224.69,461.17 227.85,453.24 C231.01,445.32 234.17,436.02 237.32,426.06 C240.48,416.11 243.64,405.22 246.80,393.54 C249.96,381.85 253.12,368.86 256.27,355.95 C259.43,343.03 262.59,329.51 265.75,316.05 C268.91,302.58 272.07,288.70 275.23,275.13 C278.38,261.57 281.54,247.90 284.70,234.65 C287.86,221.40 291.02,207.21 294.18,195.62 C297.33,184.03 300.49,173.86 303.65,165.11 C306.81,156.37 309.97,148.85 313.12,143.14 C316.28,137.43 319.44,133.64 322.60,130.85 C325.76,128.05 328.92,126.37 332.07,126.37 C335.23,126.37 338.39,128.97 341.55,130.85 C344.71,132.73 347.87,133.79 351.02,137.64 C354.18,141.50 357.34,147.64 360.50,153.98 C363.66,160.32 366.82,167.38 369.97,175.67 C373.13,183.96 376.29,193.62 379.45,203.71 C382.61,213.81 385.77,224.99 388.92,236.24 C392.08,247.49 395.24,259.35 398.40,271.23 C401.56,283.11 404.72,295.61 407.88,307.52 C411.03,319.42 414.19,331.54 417.35,342.65 C420.51,353.75 423.67,364.50 426.82,374.16 C429.98,383.83 433.14,393.20 436.30,400.62 C439.46,408.04 442.62,413.87 445.77,418.69 C448.93,423.51 452.09,427.25 455.25,429.53 C458.41,431.82 461.57,432.91 464.72,432.43 C467.88,431.94 471.04,429.05 474.20,426.64 C477.36,424.23 480.52,421.49 483.67,417.97 C486.83,414.45 489.99,410.02 493.15,405.54 C496.31,401.05 499.47,395.95 502.62,391.08 C505.78,386.21 508.94,381.01 512.10,376.33 C515.26,371.66 518.42,366.77 521.58,363.03 C524.73,359.30 527.89,355.61 531.05,353.92 C534.21,352.24 537.37,351.22 540.52,352.91 C543.68,354.60 546.84,358.12 550.00,364.04 C553.16,369.97 556.32,377.54 559.48,388.48 C562.63,399.42 565.79,414.28 568.95,429.68 C572.11,445.08 575.27,466.42 578.42,480.86 C581.58,495.29 584.74,510.25 587.90,516.28 C591.06,522.30 594.22,516.88 597.38,517.00 C600.53,517.12 603.69,517.00 606.85,517.00 C610.01,517.00 613.17,517.00 616.33,517.00 C619.48,517.00 622.64,517.00 625.80,517.00 C628.96,517.00 632.12,517.00 635.27,517.00 C638.43,517.00 641.59,517.00 644.75,517.00 C647.91,517.00 651.07,517.00 654.23,517.00 C657.38,517.00 660.54,517.00 663.70,517.00 C666.86,517.00 670.02,517.00 673.18,517.00 C676.33,517.00 679.49,517.00 682.65,517.00 C685.81,517.00 688.97,517.00 692.12,517.00 C695.28,517.00 698.44,517.00 701.60,517.00 C704.76,517.00 707.92,517.00 711.08,517.00 C714.23,517.00 718.97,517.00 720.55,517.00" stroke="#808000" stroke-width="1" stroke-opacity="0.7" fill="none"/>
<path d="M95.20,513.05L99.38,516.09L97.79,521.01L92.61,521.01L91.02,516.09Z M104.67,513.05L108.85,516.09L107.27,521.01L102.08,521.01L100.50,516.09Z M114.15,513.05L118.33,516.09L116.74,521.01L111.56,521.01L109.97,516.09Z M123.62,513.05L127.81,516.09L126.22,521.01L121.03,521.01L119.44,516.09Z M133.10,513.05L137.28,516.09L135.69,521.01L130.51,521.01L128.92,516.09Z M142.57,513.05L146.75,516.09L145.16,521.01L139.98,521.01L138.39,516.09Z M152.05,513.05L156.23,516.09L154.64,521.01L149.46,521.01L147.87,516.09Z M161.53,513.05L165.71,516.09L164.12,521.01L158.94,521.01L157.34,516.09Z M171.00,510.88L175.18,513.92L173.59,518.84L168.41,518.84L166.82,513.92Z M180.47,508.28L184.66,511.32L183.06,516.24L177.88,516.24L176.29,511.32Z M189.95,504.23L194.13,507.27L192.54,512.19L187.36,512.19L185.77,507.27Z M199.43,497.15L203.61,500.19L202.02,505.11L196.84,505.11L195.25,500.19Z M208.90,486.02L213.08,489.06L211.49,493.98L206.31,493.98L204.72,489.06Z M218.38,469.68L222.56,472.72L220.97,477.64L215.78,477.64L214.19,472.72Z M227.85,449.29L232.03,452.33L230.44,457.25L225.26,457.25L223.67,452.33Z M237.32,422.11L241.50,425.15L239.91,430.07L234.73,430.07L233.14,425.15Z M246.80,389.59L250.98,392.63L249.39,397.55L244.21,397.55L242.62,392.63Z M256.27,352.00L260.45,355.04L258.86,359.96L253.68,359.96L252.09,355.04Z M265.75,312.10L269.93,315.14L268.34,320.06L263.16,320.06L261.57,315.14Z M275.23,271.18L279.41,274.22L277.81,279.14L272.64,279.14L271.05,274.22Z M284.70,230.70L288.88,233.74L287.29,238.66L282.11,238.66L280.52,233.74Z M294.18,191.67L298.36,194.71L296.76,199.63L291.59,199.63L290.00,194.71Z M303.65,161.16L307.83,164.20L306.24,169.12L301.06,169.12L299.47,164.20Z M313.12,139.19L317.31,142.23L315.71,147.15L310.54,147.15L308.94,142.23Z M322.60,126.90L326.78,129.94L325.19,134.86L320.01,134.86L318.42,129.94Z M332.07,122.42L336.25,125.46L334.66,130.38L329.49,130.38L327.89,125.46Z M341.55,126.90L345.73,129.94L344.14,134.86L338.96,134.86L337.37,129.94Z M351.02,133.69L355.20,136.73L353.61,141.65L348.44,141.65L346.84,136.73Z M360.50,150.03L364.68,153.07L363.09,157.99L357.91,157.99L356.32,153.07Z M369.97,171.72L374.15,174.76L372.56,179.68L367.38,179.68L365.79,174.76Z M379.45,199.76L383.63,202.80L382.04,207.72L376.86,207.72L375.27,202.80Z M388.92,232.29L393.10,235.33L391.51,240.25L386.33,240.25L384.74,235.33Z M398.40,267.28L402.58,270.32L400.99,275.24L395.81,275.24L394.22,270.32Z M407.88,303.57L412.06,306.61L410.46,311.53L405.29,311.53L403.69,306.61Z M417.35,338.70L421.53,341.74L419.94,346.66L414.76,346.66L413.17,341.74Z M426.82,370.21L431.00,373.25L429.41,378.17L424.24,378.17L422.64,373.25Z M436.30,396.67L440.48,399.71L438.89,404.63L433.71,404.63L432.12,399.71Z M445.77,414.74L449.95,417.78L448.36,422.70L443.19,422.70L441.59,417.78Z M455.25,425.58L459.43,428.62L457.84,433.54L452.66,433.54L451.07,428.62Z M464.72,428.48L468.90,431.52L467.31,436.44L462.13,436.44L460.54,431.52Z M474.20,422.69L478.38,425.73L476.79,430.65L471.61,430.65L470.02,425.73Z M483.67,414.02L487.85,417.06L486.26,421.98L481.08,421.98L479.49,417.06Z M493.15,401.59L497.33,404.63L495.74,409.55L490.56,409.55L488.97,404.63Z M502.62,387.13L506.81,390.17L505.21,395.09L500.04,395.09L498.44,390.17Z M512.10,372.38L516.28,375.42L514.69,380.34L509.51,380.34L507.92,375.42Z M521.58,359.08L525.75,362.12L524.17,367.04L518.99,367.04L517.40,362.12Z M531.05,349.97L535.23,353.01L533.64,357.93L528.46,357.93L526.87,353.01Z M540.52,348.96L544.70,352.00L543.12,356.92L537.93,356.92L536.35,352.00Z M550.00,360.09L554.18,363.13L552.59,368.05L547.41,368.05L545.82,363.13Z M559.48,384.53L563.65,387.57L562.07,392.49L556.88,392.49L555.30,387.57Z M568.95,425.73L573.13,428.77L571.54,433.69L566.36,433.69L564.77,428.77Z M578.42,476.91L582.60,479.95L581.01,484.87L575.83,484.87L574.25,479.95Z M587.90,512.33L592.08,515.37L590.49,520.29L585.31,520.29L583.72,515.37Z M597.38,513.05L601.55,516.09L599.97,521.01L594.78,521.01L593.20,516.09Z M606.85,513.05L611.03,516.09L609.44,521.01L604.26,521.01L602.67,516.09Z M616.33,513.05L620.50,516.09L618.92,521.01L613.74,521.01L612.15,516.09Z M625.80,513.05L629.98,516.09L628.39,521.01L623.21,521.01L621.62,516.09Z M635.27,513.05L639.45,516.09L637.87,521.01L632.68,521.01L631.10,516.09Z M644.75,513.05L648.93,516.09L647.34,521.01L642.16,521.01L640.57,516.09Z M654.23,513.05L658.40,516.09L656.82,521.01L651.63,521.01L650.05,516.09Z M663.70,513.05L667.88,516.09L666.29,521.01L661.11,521.01L659.52,516.09Z M673.18,513.05L677.36,516.09L675.77,521.01L670.59,521.01L669.00,516.09Z M682.65,513.05L686.83,516.09L685.24,521.01L680.06,521.01L678.47,516.09Z M692.12,513.05L696.30,516.09L694.72,521.01L689.53,521.01L687.95,516.09Z M701.60,513.05L705.78,516.09L704.19,521.01L699.01,521.01L697.42,516.09Z M711.08,513.05L715.25,516.09L713.67,521.01L708.49,521.01L706.90,516.09Z M720.55,513.05L724.73,516.09L723.14,521.01L717.96,521.01L716.37,516.09Z" fill="#808000"/>
<text transform="translate(48.77,17.10) scale(0.9940,1)" font-size="22" fill="#000">350</text>
<text transform="translate(48.77,89.39) scale(0.9883,1)" font-size="22" fill="#000">300</text>
<text transform="translate(48.61,161.67) scale(0.9873,1)" font-size="22" fill="#000">250</text>
<text transform="translate(48.50,233.96) scale(0.9902,1)" font-size="22" fill="#000">200</text>
<text transform="translate(48.86,306.24) scale(0.9804,1)" font-size="22" fill="#000">150</text>
<text transform="translate(49.36,378.53) scale(0.9774,1)" font-size="22" fill="#000">100</text>
<text transform="translate(59.39,450.81) scale(1.0339,1)" font-size="22" fill="#000">50</text>
<text transform="translate(70.47,523.10) scale(1.0840,1)" font-size="22" fill="#000">0</text>
<text transform="translate(80.61,550.00) scale(0.9221,1)" font-size="22" fill="#000">0.01</text>
<text transform="translate(190.21,550.00) scale(0.9180,1)" font-size="22" fill="#000">0.1</text>
<text transform="translate(303.72,550.00) scale(0.7064,1)" font-size="22" fill="#000">1</text>
<text transform="translate(403.32,550.00) scale(1.0029,1)" font-size="22" fill="#000">10</text>
<text transform="translate(502.64,550.00) scale(0.9891,1)" font-size="22" fill="#000">100</text>
<text transform="translate(602.96,550.00) scale(0.9783,1)" font-size="22" fill="#000">1000</text>
<text transform="translate(701.96,550.00) scale(0.9788,1)" font-size="22" fill="#000">10000</text>
<text transform="translate(27.50,467.35) rotate(-90) scale(1.0092,1)" font-size="32">NMR</text>
<text transform="translate(27.50,386.27) rotate(-90) scale(0.9817,1)" font-size="32">signal</text>
<text transform="translate(27.50,293.67) rotate(-90) scale(1.0617,1)" font-size="32">intensity</text>
<text transform="translate(27.50,159.73) rotate(-90) scale(1.0238,1)" font-size="32">(a.u.)</text>
<text transform="translate(334.83,581.00) scale(0.9285,1)" font-size="32" fill="#000">T</text>
<text transform="translate(352.74,585.30) scale(1.3170,1)" font-size="16" fill="#000">2</text>
<text transform="translate(372.88,580.20) scale(0.7497,1)" font-size="32.7" fill="#000">(</text>
<text transform="translate(384.23,581.00) scale(0.9907,1)" font-size="31.5" fill="#000">ms</text>
<text transform="translate(428.36,580.20) scale(0.7151,1)" font-size="32.7" fill="#000">)</text>
<rect x="578.5" y="91.5" width="133" height="297" fill="#fff" stroke="#606060" stroke-width="1"/>
<path d="M582,104.0 H635" stroke="#000000" stroke-width="1"/>
<path d="M605.30,101.00L611.30,101.00L611.30,107.00L605.30,107.00Z" fill="#000000"/>
<text x="707.5" y="112.4" font-size="23.6" text-anchor="end">0 s</text>
<path d="M582,134.0 H635" stroke="#F00000" stroke-width="1"/>
<circle cx="608.3" cy="134.0" r="3.5" fill="#F00000"/>
<text x="707.5" y="141.8" font-size="23.6" text-anchor="end">15 s</text>
<path d="M582,163.0 H635" stroke="#0000E0" stroke-width="1"/>
<path d="M608.30,159.40L612.30,166.20L604.30,166.20Z" fill="#0000E0"/>
<text x="707.5" y="171.1" font-size="23.6" text-anchor="end">30 s</text>
<path d="M582,192.0 H635" stroke="#E000C8" stroke-width="1"/>
<path d="M608.30,195.60L612.30,188.80L604.30,188.80Z" fill="#E000C8"/>
<text x="707.5" y="200.5" font-size="23.6" text-anchor="end">45 s</text>
<path d="M582,222.0 H635" stroke="#007010" stroke-width="1"/>
<path d="M608.30,217.80L612.50,222.00L608.30,226.20L604.10,222.00Z" fill="#007010"/>
<text x="707.5" y="229.9" font-size="23.6" text-anchor="end">60 s</text>
<path d="M582,251.0 H635" stroke="#000080" stroke-width="1"/>
<path d="M604.70,251.00L611.50,247.00L611.50,255.00Z" fill="#000080"/>
<text x="707.5" y="259.2" font-size="23.6" text-anchor="end">75 s</text>
<path d="M582,280.0 H635" stroke="#7400DC" stroke-width="1"/>
<path d="M611.90,280.00L605.10,276.00L605.10,284.00Z" fill="#7400DC"/>
<text x="707.5" y="288.6" font-size="23.6" text-anchor="end">90 s</text>
<path d="M582,310.0 H635" stroke="#800080" stroke-width="1"/>
<path d="M611.94,312.10L608.30,314.20L604.66,312.10L604.66,307.90L608.30,305.80L611.94,307.90Z" fill="#800080"/>
<text x="707.5" y="318.0" font-size="23.6" text-anchor="end">105 s</text>
<path d="M582,339.0 H635" stroke="#800000" stroke-width="1"/>
<path d="M608.30,334.90L609.42,337.96L612.67,338.08L610.11,340.09L611.00,343.22L608.30,341.40L605.60,343.22L606.49,340.09L603.93,338.08L607.18,337.96Z" fill="#800000"/>
<text x="707.5" y="347.4" font-size="23.6" text-anchor="end">120 s</text>
<path d="M582,369.0 H635" stroke="#808000" stroke-width="1"/>
<path d="M608.30,365.05L612.48,368.09L610.89,373.01L605.71,373.01L604.12,368.09Z" fill="#808000"/>
<text x="707.5" y="376.7" font-size="23.6" text-anchor="end">150 s</text>
<path d="M105.0,55.7 H353.0" stroke="#E8690A" stroke-width="2.6" fill="none"/><path d="M113.5,47.7 L105.0,55.7 L113.5,63.7 M344.5,47.7 L353.0,55.7 L344.5,63.7" stroke="#E8690A" stroke-width="2.6" fill="none" stroke-linecap="round" stroke-linejoin="round"/>
<path d="M359.4,55.7 H461.7" stroke="#E8690A" stroke-width="2.6" fill="none"/><path d="M367.9,47.7 L359.4,55.7 L367.9,63.7 M453.2,47.7 L461.7,55.7 L453.2,63.7" stroke="#E8690A" stroke-width="2.6" fill="none" stroke-linecap="round" stroke-linejoin="round"/>
<path d="M467.3,55.7 H716.4" stroke="#E8690A" stroke-width="2.6" fill="none"/><path d="M475.8,47.7 L467.3,55.7 L475.8,63.7 M707.9,47.7 L716.4,55.7 L707.9,63.7" stroke="#E8690A" stroke-width="2.6" fill="none" stroke-linecap="round" stroke-linejoin="round"/>
<path d="M316.3,435.1 H350.0" stroke="#E8690A" stroke-width="2.4" fill="none"/><path d="M341.5,427.1 L350.0,435.1 L341.5,443.1" stroke="#E8690A" stroke-width="2.4" fill="none" stroke-linecap="round" stroke-linejoin="round"/>
<path d="M468.6,311.9 H512.8" stroke="#E8690A" stroke-width="2.4" fill="none"/><path d="M477.1,303.9 L468.6,311.9 L477.1,319.9" stroke="#E8690A" stroke-width="2.4" fill="none" stroke-linecap="round" stroke-linejoin="round"/>
<text transform="translate(178.82,46.70) scale(1.1545,1)" font-size="22.5" fill="#E8690A" stroke="#E8690A" stroke-width="0.7">Micropores</text>
<text transform="translate(348.77,47.30) scale(1.1266,1)" font-size="22.5" fill="#E8690A" stroke="#E8690A" stroke-width="0.7">Mesopores</text>
<text transform="translate(520.85,48.30) scale(1.1366,1)" font-size="22.5" fill="#E8690A" stroke="#E8690A" stroke-width="0.7">Macropores</text>
<text transform="translate(310.13,420.40) scale(1.0381,1)" font-size="20.7" fill="#E8690A" stroke="#E8690A" stroke-width="0.7">3ms</text>
<text transform="translate(476.93,298.90) scale(1.0743,1)" font-size="20.1" fill="#E8690A" stroke="#E8690A" stroke-width="0.7">33ms</text>
</svg></body></html>
